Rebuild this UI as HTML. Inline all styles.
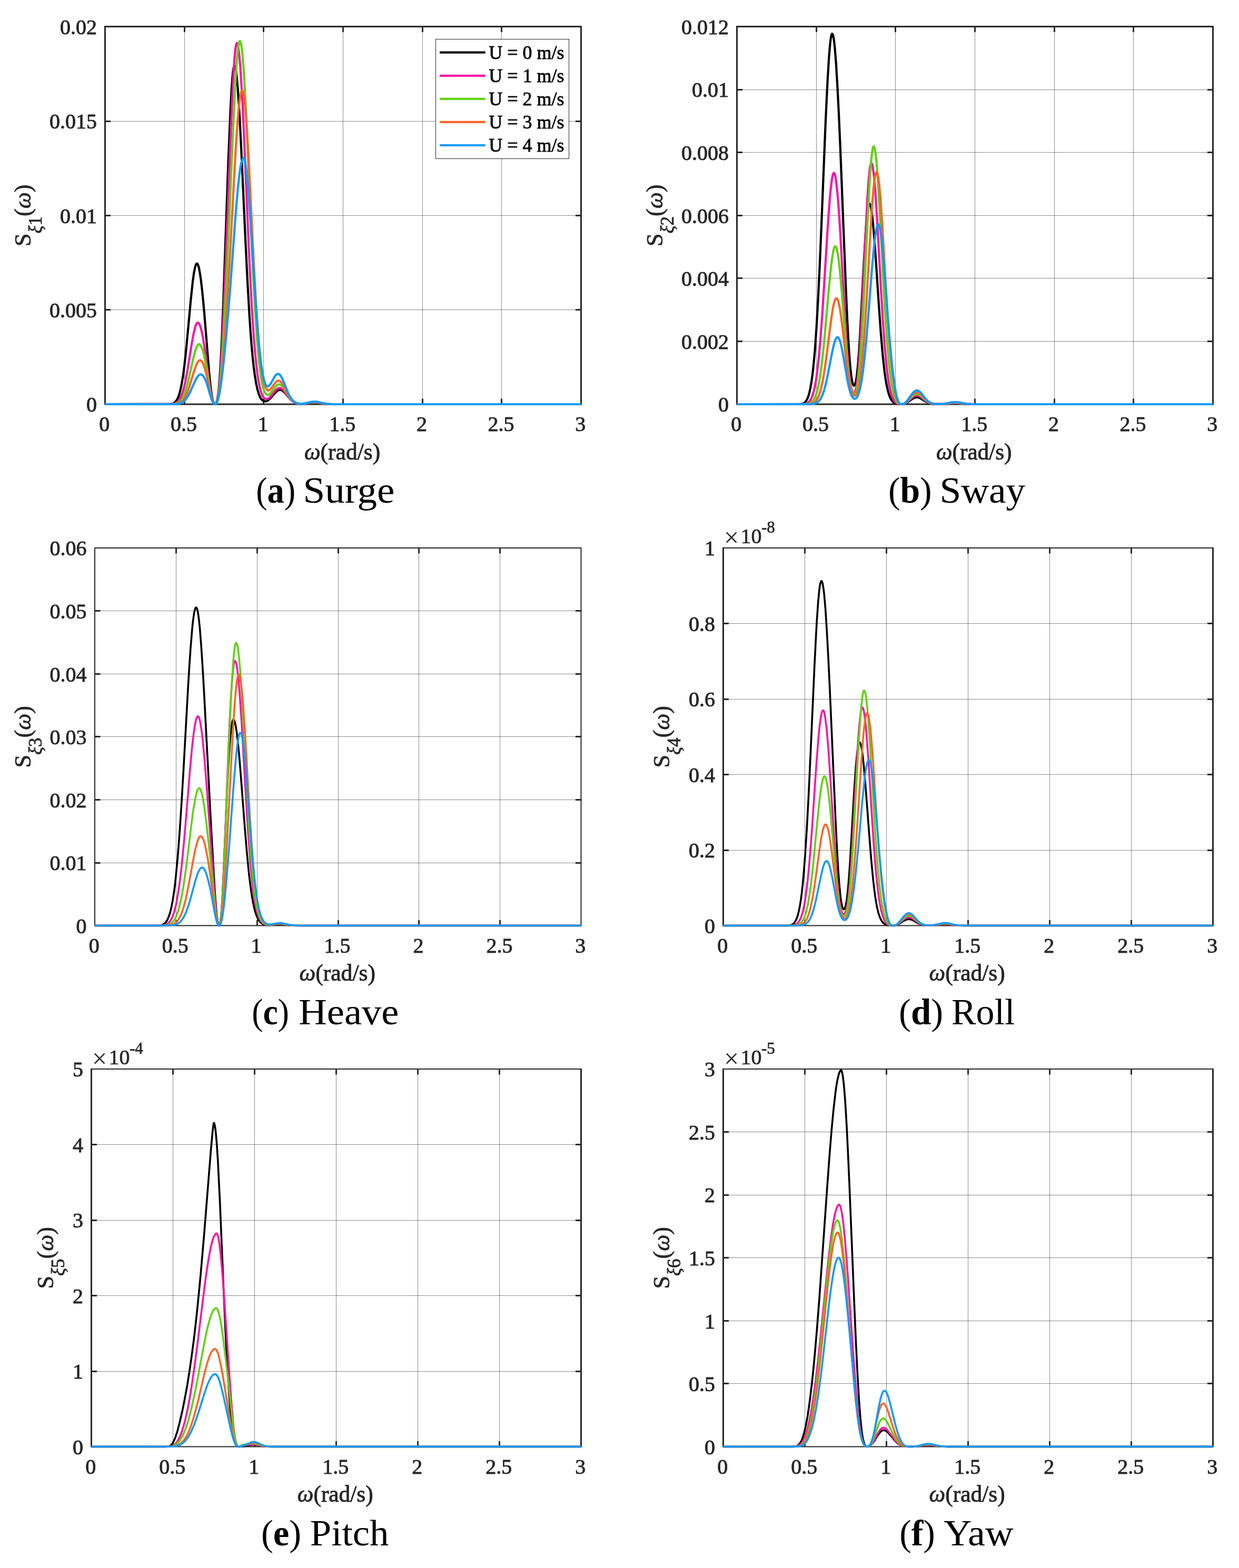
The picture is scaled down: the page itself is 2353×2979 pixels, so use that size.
<!DOCTYPE html>
<html><head><meta charset="utf-8"><title>Response spectra</title>
<style>html,body{margin:0;padding:0;background:#fff;}svg{display:block;}</style>
</head><body>
<svg width="2353" height="2979" viewBox="0 0 2353 2979" font-family="&quot;Liberation Serif&quot;, &quot;Times New Roman&quot;, serif">
<rect x="0" y="0" width="2353" height="2979" fill="#fff"/>
<g id="pa">
<path d="M350.5 50.5V768M500.5 50.5V768M651.5 50.5V768M802.5 50.5V768M952.5 50.5V768M199.5 588.5H1103.5M199.5 409.5H1103.5M199.5 230.5H1103.5" stroke="#232323" stroke-opacity="0.52" stroke-width="1" fill="none"/>
<path d="M350.5 768V757.5M350.5 50.5V61M500.5 768V757.5M500.5 50.5V61M651.5 768V757.5M651.5 50.5V61M802.5 768V757.5M802.5 50.5V61M952.5 768V757.5M952.5 50.5V61M199.5 588.5H210M1103.5 588.5H1093M199.5 409.5H210M1103.5 409.5H1093M199.5 230.5H210M1103.5 230.5H1093" stroke="#262626" stroke-width="2.9" fill="none"/>
<path d="M199.5 49V769.5M1103.5 49V769.5" stroke="#262626" stroke-width="3" fill="none"/>
<path d="M199.5 50.5H1103.5M199.5 768H1103.5" stroke="#262626" stroke-width="3" fill="none"/>
<g fill="none" stroke-width="4.2" stroke-linejoin="round" stroke-linecap="butt">
<path stroke="#000000" d="M199.5 768.0 L321.5 767.9 L326.1 767.3 L327.9 766.8 L329.7 766.1 L331.2 765.1 L332.7 763.9 L334.2 762.2 L335.4 760.6 L337.2 757.4 L338.7 753.9 L340.2 749.7 L341.7 744.5 L343.2 738.3 L344.7 731.0 L347.5 714.8 L350.2 694.6 L353.2 667.6 L362.5 568.3 L366.1 534.4 L368.2 519.1 L370.1 509.3 L371.3 504.8 L372.2 502.5 L373.1 501.1 L374.0 500.7 L374.9 501.2 L376.1 503.4 L377.3 507.0 L378.5 512.2 L380.9 526.8 L383.3 546.2 L385.7 569.7 L388.1 596.4 L397.2 707.6 L399.3 729.3 L401.1 744.2 L402.3 752.0 L403.5 758.1 L404.7 762.6 L405.9 765.6 L407.1 767.4 L408.0 768.0 L408.6 768.0 L409.2 767.7 L409.8 767.0 L411.0 764.7 L412.2 760.7 L413.4 754.6 L414.7 746.0 L415.6 737.7 L417.4 715.9 L419.5 681.2 L421.6 637.2 L424.0 577.9 L433.3 313.9 L437.3 216.6 L439.4 175.6 L441.2 149.3 L442.4 136.8 L443.3 130.3 L444.2 126.4 L444.8 125.3 L445.1 125.1 L445.4 125.2 L446.0 126.0 L447.2 129.8 L448.1 134.6 L449.3 143.6 L451.4 165.9 L453.8 200.6 L455.9 237.7 L458.0 279.6 L466.2 457.6 L469.8 531.3 L473.7 599.9 L475.5 626.8 L477.6 654.4 L479.7 677.9 L481.8 697.6 L484.0 713.7 L486.4 728.4 L488.8 739.6 L491.5 748.7 L493.0 752.5 L494.5 755.6 L496.0 758.0 L497.8 760.1 L500.2 761.8 L502.6 762.5 L503.8 762.5 L505.4 762.3 L508.1 761.2 L510.8 759.3 L513.5 756.8 L522.2 746.8 L525.2 743.8 L527.0 742.4 L528.6 741.5 L530.4 740.9 L531.9 740.7 L533.4 740.9 L535.2 741.5 L537.0 742.6 L538.8 744.1 L542.1 747.5 L550.9 757.8 L553.9 760.7 L556.6 762.8 L559.6 764.6 L562.9 766.0 L566.5 766.8 L570.4 767.2 L574.1 767.2 L577.7 767.0 L591.2 764.8 L597.3 764.4 L603.3 764.8 L614.4 766.7 L620.2 767.4 L626.5 767.8 L634.9 768.0 L1103.5 768.0"/>
<path stroke="#FF12A6" d="M199.5 768.0 L322.7 767.9 L327.6 767.6 L331.2 766.8 L334.2 765.6 L336.9 763.7 L338.7 761.9 L340.5 759.5 L342.0 757.0 L343.5 754.0 L346.6 746.1 L349.3 736.7 L352.0 724.9 L355.0 709.3 L364.3 651.9 L367.9 632.4 L370.1 623.5 L371.9 617.9 L373.1 615.3 L374.0 614.0 L374.9 613.2 L375.8 613.0 L376.7 613.3 L377.9 614.6 L379.1 616.8 L380.3 619.8 L382.7 628.4 L385.1 640.0 L387.2 652.3 L389.6 668.4 L398.4 734.6 L400.2 745.8 L402.0 754.8 L403.2 759.4 L404.4 763.0 L405.6 765.6 L406.8 767.3 L408.0 768.0 L408.6 768.0 L409.2 767.7 L410.4 766.4 L411.6 763.7 L412.8 759.5 L414.0 753.3 L415.3 745.0 L416.5 734.2 L418.6 709.1 L421.0 671.0 L423.7 617.8 L426.7 549.0 L437.6 265.3 L441.5 174.4 L443.9 130.7 L446.0 102.8 L447.2 91.9 L448.1 86.3 L449.0 82.9 L449.6 81.8 L449.9 81.7 L450.2 81.8 L450.8 82.6 L452.0 86.7 L452.9 91.8 L454.1 101.4 L456.2 125.2 L458.6 162.3 L460.8 201.9 L462.9 246.6 L471.0 436.7 L474.6 515.4 L478.5 588.5 L482.2 642.8 L484.3 668.5 L486.4 690.0 L488.5 707.7 L490.9 723.7 L493.3 735.9 L495.7 744.8 L496.9 748.2 L498.4 751.7 L499.9 754.3 L501.4 756.2 L503.2 757.7 L505.4 758.3 L507.5 758.1 L509.6 757.1 L511.7 755.5 L513.8 753.3 L521.6 743.5 L524.6 740.3 L526.4 738.8 L528.0 737.9 L529.5 737.3 L531.0 737.1 L532.5 737.3 L534.3 738.1 L536.1 739.3 L537.9 740.9 L540.9 744.4 L550.3 756.8 L553.3 760.0 L556.0 762.4 L559.0 764.3 L562.3 765.8 L565.9 766.8 L569.8 767.2 L573.5 767.3 L577.4 767.0 L591.2 764.8 L597.3 764.4 L603.3 764.8 L614.4 766.7 L620.2 767.4 L626.5 767.8 L634.9 768.0 L1103.5 768.0"/>
<path stroke="#60D210" d="M199.5 768.0 L324.3 767.9 L329.4 767.7 L333.0 767.2 L336.3 766.2 L339.0 764.8 L340.8 763.5 L342.6 761.8 L345.6 757.8 L348.7 752.2 L351.7 744.5 L354.4 735.9 L357.4 724.4 L366.7 682.3 L370.4 668.0 L372.5 661.5 L374.3 657.5 L376.1 654.9 L377.0 654.2 L377.9 653.9 L378.8 654.1 L380.0 654.8 L381.2 656.3 L382.4 658.5 L384.8 664.7 L387.2 673.5 L389.3 683.2 L391.4 694.5 L399.6 744.1 L401.4 753.0 L403.2 759.8 L404.1 762.5 L405.3 765.2 L406.5 767.0 L407.7 767.9 L408.9 767.9 L409.8 767.3 L411.0 765.5 L411.9 763.4 L413.4 758.3 L415.0 750.7 L416.5 740.4 L417.7 730.1 L420.4 700.1 L423.4 657.1 L427.0 594.7 L430.9 516.3 L434.5 435.5 L442.4 250.7 L446.6 164.5 L449.0 126.0 L450.2 110.6 L451.4 97.9 L452.6 88.3 L453.5 83.1 L454.7 79.0 L455.3 78.2 L455.6 78.1 L455.9 78.2 L456.5 79.0 L457.7 83.1 L458.6 88.3 L459.9 97.9 L462.0 121.9 L464.4 159.2 L466.5 199.0 L468.6 243.9 L476.7 434.9 L480.3 514.0 L484.0 582.4 L487.6 637.9 L489.4 660.7 L491.5 683.3 L493.6 701.8 L495.7 716.7 L497.8 728.3 L500.2 738.1 L501.4 741.7 L502.6 744.6 L503.8 746.8 L505.1 748.5 L506.6 749.7 L508.1 750.3 L509.6 750.1 L511.4 749.2 L512.9 747.9 L514.7 745.9 L521.6 736.5 L524.3 733.3 L525.8 732.0 L527.4 731.0 L528.9 730.5 L530.1 730.3 L531.6 730.6 L533.4 731.5 L535.2 733.0 L537.0 735.0 L540.3 739.7 L549.0 753.9 L552.1 757.9 L555.1 761.1 L558.4 763.7 L561.7 765.5 L565.3 766.6 L569.5 767.2 L573.2 767.2 L577.1 766.9 L591.2 764.5 L597.3 764.1 L603.3 764.5 L614.4 766.6 L620.2 767.4 L626.5 767.8 L634.9 768.0 L1103.5 768.0"/>
<path stroke="#FF6428" d="M199.5 768.0 L325.8 768.0 L330.9 767.8 L334.8 767.3 L338.1 766.6 L340.8 765.6 L342.6 764.6 L344.4 763.3 L347.5 760.4 L350.5 756.2 L353.5 750.6 L356.2 744.3 L359.2 735.9 L368.5 705.1 L372.2 694.7 L374.3 690.0 L376.1 687.0 L377.9 685.1 L378.8 684.6 L379.7 684.4 L380.9 684.6 L382.1 685.4 L383.3 686.6 L384.2 687.9 L386.3 692.0 L388.7 698.7 L390.5 705.1 L392.7 713.9 L400.2 750.1 L402.0 757.0 L403.8 762.4 L404.7 764.4 L405.9 766.4 L406.8 767.4 L408.0 768.0 L409.2 767.8 L410.1 767.1 L411.0 765.9 L411.9 764.1 L413.7 758.9 L415.3 752.5 L416.8 744.1 L418.3 733.7 L419.8 721.3 L421.6 704.1 L424.9 666.6 L429.1 610.0 L433.0 548.9 L437.0 480.1 L445.7 316.6 L448.1 275.7 L450.2 243.9 L452.9 210.2 L455.3 188.4 L456.5 180.8 L457.7 175.4 L458.9 172.4 L459.6 171.8 L459.9 171.8 L460.2 171.8 L460.8 172.6 L462.0 176.1 L462.9 180.6 L464.1 188.9 L466.2 209.6 L468.6 241.8 L470.7 276.2 L472.8 315.0 L480.9 480.1 L484.3 542.9 L487.9 602.7 L491.2 647.6 L493.0 668.0 L494.8 685.5 L496.6 700.2 L498.7 714.1 L500.5 723.5 L502.6 731.6 L504.8 737.2 L506.0 739.3 L507.2 740.7 L508.4 741.6 L509.6 741.9 L510.8 741.7 L512.3 740.8 L513.8 739.4 L515.3 737.7 L521.3 729.0 L524.3 725.5 L526.1 724.0 L527.7 723.3 L529.2 723.2 L530.7 723.5 L531.9 724.1 L533.4 725.4 L534.9 727.1 L536.4 729.3 L539.4 734.4 L548.1 751.3 L551.2 756.0 L554.2 759.9 L557.5 762.9 L561.1 765.2 L565.0 766.5 L569.8 767.2 L573.5 767.2 L577.1 766.9 L591.2 764.2 L597.3 763.7 L600.3 763.8 L603.3 764.2 L614.4 766.4 L620.2 767.3 L626.5 767.8 L634.9 768.0 L1103.5 768.0"/>
<path stroke="#0E9AFF" d="M199.5 768.0 L326.7 768.0 L335.7 767.6 L339.0 767.1 L341.7 766.4 L345.3 764.9 L348.4 763.0 L351.4 760.3 L354.4 756.6 L357.1 752.4 L360.1 746.8 L369.8 725.4 L373.4 718.3 L375.5 715.1 L377.3 713.1 L379.1 711.8 L380.9 711.3 L382.1 711.5 L383.3 712.0 L385.4 713.7 L387.8 717.1 L389.9 721.4 L391.8 726.0 L393.6 731.3 L400.8 755.8 L402.6 760.7 L404.4 764.5 L406.2 767.0 L407.1 767.7 L408.0 768.0 L408.9 767.9 L409.8 767.4 L410.7 766.5 L411.6 765.1 L413.1 761.7 L414.7 756.8 L416.2 750.3 L417.7 742.2 L421.0 719.5 L424.6 688.7 L429.1 643.8 L433.6 592.2 L437.6 542.1 L446.9 415.2 L449.3 385.3 L451.7 358.6 L454.4 333.5 L455.9 322.3 L457.1 314.9 L458.6 307.8 L459.9 303.8 L461.1 301.4 L461.7 300.8 L462.3 300.5 L463.2 301.2 L464.4 303.9 L465.3 307.4 L466.5 314.0 L468.6 330.2 L471.0 355.5 L473.1 382.4 L475.2 412.8 L483.1 537.4 L486.4 587.0 L489.7 630.5 L493.0 666.5 L496.3 694.4 L497.8 704.4 L499.6 714.3 L501.4 722.0 L503.2 727.6 L505.1 731.4 L506.0 732.6 L506.9 733.4 L508.1 734.0 L509.6 733.8 L510.8 733.1 L512.3 731.5 L515.0 727.5 L521.3 716.1 L522.8 713.9 L524.3 712.1 L525.8 710.9 L527.0 710.4 L528.6 710.3 L529.8 710.7 L531.0 711.5 L532.5 713.2 L534.0 715.4 L535.5 718.2 L538.5 724.8 L547.2 746.5 L550.3 752.6 L553.3 757.5 L555.1 759.9 L556.9 761.8 L558.7 763.3 L560.5 764.6 L562.6 765.6 L564.7 766.3 L567.1 766.8 L569.5 767.1 L573.2 767.1 L577.1 766.7 L581.3 765.9 L591.2 763.6 L594.2 763.1 L597.3 763.0 L600.3 763.1 L603.3 763.6 L614.4 766.2 L620.2 767.2 L626.5 767.7 L634.9 768.0 L1103.5 768.0"/>
</g>
<g font-size="40" fill="#262626" stroke="#262626" stroke-width="0.9" text-anchor="end">
<text x="184" y="782.3">0</text>
<text x="184" y="602.9">0.005</text>
<text x="184" y="423.6">0.01</text>
<text x="184" y="244.2">0.015</text>
<text x="184" y="64.8">0.02</text>
</g>
<g font-size="40" fill="#262626" stroke="#262626" stroke-width="0.9" text-anchor="middle">
<text x="198.3" y="819.2">0</text>
<text x="349" y="819.2">0.5</text>
<text x="499.6" y="819.2">1</text>
<text x="650.3" y="819.2">1.5</text>
<text x="801" y="819.2">2</text>
<text x="951.6" y="819.2">2.5</text>
<text x="1102.3" y="819.2">3</text>
</g>
<text transform="translate(577.9 872.8) scale(0.9888 1)" font-size="44" fill="#262626" stroke="#262626" stroke-width="0.9"><tspan font-style="italic">&#969;</tspan>(rad/s)</text>
<text transform="translate(57.8 409.2) rotate(-90)" font-size="44" fill="#262626" stroke="#262626" stroke-width="0.8" text-anchor="middle">S<tspan font-size="35" dy="21"><tspan font-style="italic">&#958;</tspan>1</tspan><tspan dy="-21">(</tspan><tspan font-style="italic">&#969;</tspan>)</text>
<text transform="translate(486.2 955.3) scale(0.9187 1)" font-size="70" fill="#000">(<tspan font-weight="bold">a</tspan>)</text>
<text transform="translate(575.4 955.3) scale(1.0735 1)" font-size="70" fill="#000">Surge</text>
</g>
<g id="pb">
<path d="M1550.5 50.5V768M1700.5 50.5V768M1851.5 50.5V768M2002.5 50.5V768M2152.5 50.5V768M1399.5 648.5H2303.5M1399.5 528.5H2303.5M1399.5 409.5H2303.5M1399.5 289.5H2303.5M1399.5 170.5H2303.5" stroke="#232323" stroke-opacity="0.52" stroke-width="1" fill="none"/>
<path d="M1550.5 768V757.5M1550.5 50.5V61M1700.5 768V757.5M1700.5 50.5V61M1851.5 768V757.5M1851.5 50.5V61M2002.5 768V757.5M2002.5 50.5V61M2152.5 768V757.5M2152.5 50.5V61M1399.5 648.5H1410M2303.5 648.5H2293M1399.5 528.5H1410M2303.5 528.5H2293M1399.5 409.5H1410M2303.5 409.5H2293M1399.5 289.5H1410M2303.5 289.5H2293M1399.5 170.5H1410M2303.5 170.5H2293" stroke="#262626" stroke-width="2.9" fill="none"/>
<path d="M1399.5 49V769.5M2303.5 49V769.5" stroke="#262626" stroke-width="3" fill="none"/>
<path d="M1399.5 50.5H2303.5M1399.5 768H2303.5" stroke="#262626" stroke-width="3" fill="none"/>
<g fill="none" stroke-width="4.2" stroke-linejoin="round" stroke-linecap="butt">
<path stroke="#000000" d="M1399.5 768.0 L1513.4 768.0 L1518.2 767.9 L1521.5 767.6 L1524.3 767.0 L1526.7 765.9 L1528.8 764.3 L1530.6 762.2 L1532.4 759.3 L1533.9 756.0 L1535.4 751.9 L1536.9 746.8 L1539.0 737.5 L1540.8 727.2 L1542.6 714.5 L1544.1 701.8 L1545.9 683.8 L1547.5 666.3 L1550.5 623.9 L1553.5 571.6 L1556.8 503.1 L1560.1 425.3 L1567.6 237.9 L1569.8 190.4 L1571.9 148.3 L1574.3 109.0 L1576.4 84.0 L1577.6 74.1 L1578.5 68.9 L1579.4 65.6 L1580.0 64.5 L1580.6 64.2 L1581.2 64.8 L1581.8 66.2 L1583.0 71.2 L1584.2 79.4 L1585.4 90.5 L1587.8 121.0 L1590.5 166.9 L1593.0 216.0 L1595.7 278.2 L1606.8 557.2 L1609.2 609.8 L1611.6 654.3 L1613.7 685.0 L1615.0 699.0 L1616.2 710.3 L1617.4 719.1 L1618.6 725.6 L1619.8 729.9 L1621.0 732.3 L1621.6 732.7 L1622.2 732.7 L1622.8 732.2 L1623.4 731.3 L1624.6 727.9 L1625.5 724.1 L1626.7 717.1 L1627.6 710.4 L1629.4 692.8 L1631.2 669.8 L1633.3 636.6 L1640.9 492.3 L1644.2 438.2 L1646.0 415.7 L1647.8 399.4 L1648.7 393.7 L1649.6 389.8 L1650.2 388.1 L1650.5 387.6 L1651.1 387.1 L1651.4 387.2 L1652.0 387.7 L1652.9 389.7 L1653.8 393.0 L1654.7 397.7 L1656.5 410.7 L1658.6 431.6 L1662.3 478.1 L1669.5 586.9 L1672.8 632.9 L1676.4 675.1 L1679.7 705.3 L1681.5 718.5 L1683.7 731.0 L1685.8 740.9 L1687.9 748.6 L1690.3 755.1 L1692.7 759.6 L1695.4 763.1 L1696.9 764.5 L1698.7 765.7 L1702.0 767.1 L1706.0 767.8 L1713.2 768.0 L1715.3 767.8 L1717.4 767.4 L1719.8 766.6 L1722.2 765.2 L1731.0 758.9 L1734.6 756.7 L1737.9 755.3 L1741.2 754.8 L1744.2 755.3 L1747.2 756.4 L1750.3 758.1 L1758.4 763.2 L1761.1 764.6 L1763.8 765.7 L1766.8 766.6 L1770.1 767.3 L1773.8 767.6 L1778.3 767.9 L1791.2 767.7 L1807.8 766.4 L1813.8 766.2 L1819.9 766.4 L1836.4 767.7 L1851.2 768.0 L2303.5 768.0"/>
<path stroke="#FF12A6" d="M1399.5 768.0 L1516.1 768.0 L1525.8 767.7 L1528.8 767.3 L1531.2 766.6 L1533.3 765.7 L1535.1 764.5 L1536.9 762.8 L1538.7 760.5 L1540.2 757.9 L1541.7 754.8 L1543.8 749.0 L1545.6 742.6 L1547.5 734.6 L1549.0 726.5 L1550.8 714.9 L1552.3 703.6 L1555.3 676.1 L1558.3 641.6 L1561.3 600.7 L1564.3 554.5 L1571.6 436.7 L1575.5 382.0 L1577.6 358.9 L1579.7 341.9 L1580.9 335.1 L1581.8 331.6 L1582.7 329.4 L1583.6 328.5 L1583.9 328.6 L1584.5 329.1 L1585.7 332.2 L1586.6 336.2 L1587.8 343.6 L1589.9 362.3 L1592.1 387.4 L1594.2 417.6 L1596.3 451.9 L1603.8 587.0 L1606.5 632.7 L1609.2 672.4 L1611.6 700.9 L1612.8 712.5 L1614.4 724.3 L1615.6 731.7 L1617.1 738.7 L1618.6 743.4 L1619.2 744.6 L1620.1 745.9 L1621.0 746.5 L1621.9 746.4 L1622.8 745.5 L1623.4 744.6 L1624.6 741.6 L1625.8 737.1 L1627.0 730.9 L1627.9 724.8 L1630.0 705.9 L1631.8 683.8 L1633.9 651.1 L1636.0 611.8 L1643.9 440.9 L1647.5 372.6 L1649.3 346.2 L1651.1 326.4 L1652.0 319.3 L1652.9 314.2 L1653.8 311.1 L1654.4 310.1 L1654.7 310.0 L1655.0 310.1 L1655.6 310.8 L1656.5 313.2 L1657.4 317.3 L1658.3 322.9 L1660.2 338.6 L1662.3 363.7 L1665.9 419.6 L1673.1 550.3 L1676.4 605.6 L1680.0 656.3 L1683.4 692.7 L1685.2 708.4 L1687.0 721.6 L1689.1 734.0 L1691.2 743.6 L1693.6 751.8 L1696.0 757.7 L1697.2 760.0 L1698.7 762.3 L1700.2 764.0 L1702.0 765.6 L1703.5 766.5 L1705.1 767.1 L1708.7 767.9 L1714.1 767.9 L1715.9 767.7 L1717.7 767.1 L1719.8 766.1 L1722.2 764.5 L1731.0 756.5 L1734.6 753.6 L1737.9 751.9 L1739.7 751.4 L1741.2 751.3 L1742.7 751.4 L1744.2 751.8 L1747.2 753.2 L1750.3 755.4 L1758.4 761.9 L1761.1 763.7 L1763.8 765.1 L1766.8 766.2 L1770.1 767.1 L1773.8 767.6 L1778.3 767.8 L1784.6 767.8 L1791.2 767.6 L1807.8 765.9 L1813.8 765.6 L1819.9 765.9 L1836.4 767.6 L1851.2 768.0 L2303.5 768.0"/>
<path stroke="#60D210" d="M1399.5 768.0 L1518.8 768.0 L1529.4 767.8 L1534.8 767.1 L1536.9 766.5 L1539.0 765.6 L1540.8 764.4 L1542.6 762.8 L1544.1 761.1 L1545.6 758.9 L1547.5 755.6 L1549.3 751.3 L1551.1 745.9 L1552.6 740.4 L1554.4 732.4 L1555.9 724.6 L1558.9 705.3 L1561.9 681.1 L1564.9 652.1 L1574.6 542.8 L1578.5 504.0 L1580.6 487.9 L1582.4 477.5 L1583.6 472.6 L1584.5 470.0 L1585.4 468.4 L1586.3 467.8 L1587.2 468.3 L1588.1 469.9 L1589.0 472.5 L1590.2 477.6 L1592.4 490.8 L1594.5 508.7 L1598.4 551.8 L1607.7 670.2 L1610.4 698.6 L1612.8 718.7 L1614.0 726.7 L1615.6 734.8 L1617.1 740.9 L1618.6 745.2 L1620.1 747.8 L1620.7 748.4 L1621.6 748.9 L1622.5 748.8 L1623.1 748.4 L1624.6 746.3 L1626.1 742.5 L1627.3 737.9 L1628.5 731.9 L1629.7 724.1 L1632.1 703.1 L1634.5 674.1 L1637.0 637.3 L1639.4 593.7 L1648.1 410.0 L1651.7 343.2 L1653.8 313.1 L1655.6 294.1 L1656.5 287.2 L1657.4 282.3 L1658.3 279.3 L1658.9 278.4 L1659.2 278.3 L1659.6 278.4 L1660.2 279.2 L1661.1 281.8 L1662.0 286.2 L1662.9 292.2 L1664.7 309.0 L1666.8 335.8 L1670.4 395.6 L1677.6 535.3 L1680.6 589.3 L1684.3 644.5 L1687.6 684.4 L1689.4 701.8 L1691.5 718.7 L1693.6 732.2 L1695.7 742.8 L1698.1 752.1 L1700.5 758.8 L1702.9 763.3 L1704.1 764.9 L1705.7 766.2 L1708.1 767.5 L1711.4 768.0 L1715.3 767.7 L1718.3 766.7 L1720.4 765.3 L1722.5 763.5 L1731.0 754.4 L1734.6 751.1 L1736.4 749.8 L1737.9 749.0 L1739.7 748.4 L1741.2 748.3 L1742.7 748.4 L1744.2 748.9 L1747.2 750.6 L1750.3 753.1 L1758.4 760.9 L1761.1 762.9 L1763.8 764.6 L1766.8 765.9 L1770.1 766.9 L1773.8 767.5 L1778.3 767.8 L1784.6 767.8 L1791.2 767.5 L1796.7 766.9 L1807.8 765.4 L1813.8 765.0 L1819.9 765.4 L1831.0 766.9 L1836.4 767.5 L1842.8 767.8 L1851.2 768.0 L2303.5 768.0"/>
<path stroke="#FF6428" d="M1399.5 768.0 L1532.7 767.9 L1538.4 767.4 L1542.6 766.3 L1545.9 764.7 L1549.0 762.1 L1550.8 759.8 L1552.6 756.9 L1554.4 753.2 L1555.9 749.4 L1558.9 739.5 L1561.9 726.3 L1564.6 711.3 L1567.6 691.4 L1570.4 671.0 L1577.3 615.5 L1580.9 590.7 L1583.0 579.5 L1584.8 572.4 L1585.7 569.9 L1586.6 568.0 L1587.5 566.9 L1588.4 566.5 L1589.3 566.9 L1590.2 568.0 L1591.1 569.9 L1592.1 572.6 L1593.9 580.2 L1596.0 592.2 L1599.6 619.2 L1608.6 697.1 L1611.3 716.3 L1614.0 731.4 L1615.6 737.9 L1617.1 743.0 L1618.6 746.9 L1620.1 749.7 L1621.6 751.3 L1622.5 751.7 L1623.4 751.7 L1624.3 751.4 L1624.9 750.9 L1626.4 748.9 L1627.9 745.6 L1629.4 740.9 L1630.9 734.5 L1632.4 726.4 L1635.1 706.8 L1637.9 680.6 L1640.6 647.6 L1643.6 603.9 L1646.6 554.1 L1653.2 438.0 L1656.8 383.1 L1658.9 358.0 L1660.8 342.0 L1662.0 334.4 L1662.9 330.5 L1663.8 328.1 L1664.4 327.4 L1664.7 327.3 L1665.0 327.4 L1665.6 328.1 L1666.5 330.5 L1667.4 334.4 L1668.3 339.8 L1670.1 355.0 L1672.2 379.1 L1675.8 432.9 L1683.1 558.6 L1686.1 607.3 L1689.4 653.4 L1692.4 687.6 L1694.2 704.8 L1696.3 721.8 L1698.1 734.0 L1700.2 745.8 L1702.0 753.6 L1704.1 760.4 L1705.1 762.5 L1706.3 764.7 L1707.2 765.8 L1708.4 766.9 L1710.5 767.9 L1713.2 767.9 L1716.2 767.2 L1718.9 765.9 L1721.0 764.2 L1723.1 762.0 L1731.0 752.3 L1734.3 748.8 L1736.1 747.3 L1737.9 746.1 L1739.7 745.5 L1741.2 745.3 L1742.7 745.5 L1744.2 746.0 L1747.2 747.9 L1750.3 750.8 L1758.4 759.8 L1761.1 762.2 L1763.8 764.1 L1766.8 765.6 L1770.1 766.7 L1773.8 767.4 L1778.3 767.8 L1784.6 767.8 L1791.2 767.4 L1796.7 766.7 L1807.8 764.8 L1813.8 764.4 L1819.9 764.8 L1831.0 766.7 L1836.4 767.4 L1842.8 767.8 L1851.2 768.0 L2303.5 768.0"/>
<path stroke="#0E9AFF" d="M1399.5 768.0 L1536.3 767.9 L1541.7 767.6 L1545.9 767.0 L1549.3 766.0 L1552.3 764.4 L1554.1 763.0 L1555.9 761.1 L1557.7 758.7 L1559.2 756.2 L1562.2 749.8 L1564.9 742.0 L1567.6 732.2 L1570.7 719.1 L1579.7 672.2 L1583.3 655.8 L1585.1 649.4 L1586.9 644.6 L1587.8 642.9 L1588.7 641.7 L1589.6 640.9 L1590.5 640.6 L1591.4 640.9 L1592.4 641.7 L1593.3 643.1 L1594.2 645.0 L1596.0 650.2 L1597.8 657.3 L1601.1 674.0 L1609.5 723.2 L1612.2 736.1 L1614.7 745.0 L1616.2 749.2 L1617.7 752.6 L1619.2 755.0 L1620.7 756.6 L1622.2 757.5 L1623.1 757.7 L1624.0 757.6 L1625.5 756.9 L1627.0 755.4 L1628.8 752.5 L1630.3 748.9 L1631.8 744.2 L1633.3 738.4 L1634.8 731.2 L1636.3 722.7 L1639.4 701.5 L1642.4 674.8 L1645.7 639.6 L1648.7 603.3 L1655.9 510.8 L1659.9 467.6 L1662.0 449.5 L1664.1 436.1 L1665.3 430.9 L1666.2 428.2 L1667.1 426.5 L1668.0 426.0 L1668.9 426.6 L1669.8 428.4 L1670.7 431.5 L1671.6 435.7 L1673.4 447.4 L1675.5 466.2 L1679.1 507.9 L1686.4 605.6 L1689.4 643.4 L1692.7 679.8 L1696.0 710.0 L1699.3 734.2 L1701.1 744.7 L1702.6 752.0 L1704.1 757.7 L1706.0 762.7 L1707.8 765.8 L1708.7 766.8 L1709.6 767.4 L1710.5 767.8 L1711.7 768.0 L1714.1 767.7 L1716.8 766.7 L1719.2 765.1 L1721.0 763.5 L1723.1 761.0 L1731.0 749.8 L1734.3 745.7 L1736.1 744.0 L1737.9 742.7 L1739.7 741.9 L1741.2 741.7 L1742.7 741.9 L1744.2 742.5 L1745.7 743.5 L1747.2 744.8 L1750.3 748.1 L1758.4 758.5 L1761.1 761.3 L1763.8 763.5 L1766.8 765.2 L1770.1 766.5 L1773.8 767.3 L1778.3 767.7 L1784.6 767.7 L1791.2 767.3 L1796.7 766.5 L1807.8 764.3 L1813.8 763.8 L1819.9 764.3 L1831.0 766.5 L1836.4 767.3 L1842.8 767.8 L1851.2 768.0 L2303.5 768.0"/>
</g>
<g font-size="40" fill="#262626" stroke="#262626" stroke-width="0.9" text-anchor="end">
<text x="1384" y="782.3">0</text>
<text x="1384" y="662.7">0.002</text>
<text x="1384" y="543.1">0.004</text>
<text x="1384" y="423.6">0.006</text>
<text x="1384" y="304">0.008</text>
<text x="1384" y="184.4">0.01</text>
<text x="1384" y="64.8">0.012</text>
</g>
<g font-size="40" fill="#262626" stroke="#262626" stroke-width="0.9" text-anchor="middle">
<text x="1398.3" y="819.2">0</text>
<text x="1549" y="819.2">0.5</text>
<text x="1699.6" y="819.2">1</text>
<text x="1850.3" y="819.2">1.5</text>
<text x="2001" y="819.2">2</text>
<text x="2151.6" y="819.2">2.5</text>
<text x="2302.3" y="819.2">3</text>
</g>
<text transform="translate(1778 872.8) scale(0.9839 1)" font-size="44" fill="#262626" stroke="#262626" stroke-width="0.9"><tspan font-style="italic">&#969;</tspan>(rad/s)</text>
<text transform="translate(1257.5 409.2) rotate(-90)" font-size="44" fill="#262626" stroke="#262626" stroke-width="0.8" text-anchor="middle">S<tspan font-size="35" dy="21"><tspan font-style="italic">&#958;</tspan>2</tspan><tspan dy="-21">(</tspan><tspan font-style="italic">&#969;</tspan>)</text>
<text transform="translate(1686.9 955.3) scale(0.9671 1)" font-size="70" fill="#000">(<tspan font-weight="bold">b</tspan>)</text>
<text transform="translate(1784.4 955.3) scale(1.0467 1)" font-size="70" fill="#000">Sway</text>
</g>
<g id="pc">
<path d="M334.5 1041V1758.5M488.5 1041V1758.5M642.5 1041V1758.5M795.5 1041V1758.5M949.5 1041V1758.5M180 1639.5H1103.5M180 1519.5H1103.5M180 1399.5H1103.5M180 1280.5H1103.5M180 1160.5H1103.5" stroke="#232323" stroke-opacity="0.52" stroke-width="1" fill="none"/>
<path d="M334.5 1758.5V1748M334.5 1041V1051.5M488.5 1758.5V1748M488.5 1041V1051.5M642.5 1758.5V1748M642.5 1041V1051.5M795.5 1758.5V1748M795.5 1041V1051.5M949.5 1758.5V1748M949.5 1041V1051.5M180 1639.5H190.5M1103.5 1639.5H1093M180 1519.5H190.5M1103.5 1519.5H1093M180 1399.5H190.5M1103.5 1399.5H1093M180 1280.5H190.5M1103.5 1280.5H1093M180 1160.5H190.5M1103.5 1160.5H1093" stroke="#262626" stroke-width="2.9" fill="none"/>
<path d="M180 1040V1759.5M1103.5 1040V1759.5" stroke="#262626" stroke-width="2" fill="none"/>
<path d="M180 1041H1103.5M180 1758.5H1103.5" stroke="#262626" stroke-width="2" fill="none"/>
<g fill="none" stroke-width="3.6" stroke-linejoin="round" stroke-linecap="butt">
<path stroke="#000000" d="M180.0 1758.5 L295.7 1758.5 L301.0 1758.4 L304.4 1758.1 L307.4 1757.4 L309.9 1756.4 L312.4 1754.7 L314.5 1752.6 L316.7 1749.6 L318.5 1746.2 L320.4 1741.8 L321.9 1737.4 L324.1 1729.7 L326.2 1720.1 L328.1 1710.2 L329.9 1698.4 L331.8 1684.7 L333.6 1668.8 L337.3 1630.5 L341.0 1583.0 L344.7 1527.0 L348.4 1464.1 L357.3 1303.4 L359.8 1263.2 L361.9 1231.6 L364.7 1197.6 L366.2 1182.5 L367.5 1172.6 L368.7 1164.7 L369.9 1159.0 L371.2 1155.5 L371.8 1154.5 L372.4 1154.1 L372.7 1154.2 L373.3 1154.7 L373.9 1155.8 L374.6 1157.6 L375.8 1163.1 L377.0 1170.9 L379.5 1193.4 L381.9 1224.1 L384.4 1261.5 L387.2 1309.4 L401.0 1571.8 L407.2 1680.5 L409.6 1715.5 L411.8 1738.5 L413.0 1748.0 L414.0 1753.3 L414.9 1756.8 L415.8 1758.4 L416.4 1758.4 L416.7 1758.0 L417.3 1756.6 L418.3 1752.6 L418.9 1748.6 L420.4 1733.7 L422.0 1711.8 L424.7 1656.8 L431.5 1497.1 L433.7 1455.1 L435.8 1420.5 L437.7 1397.4 L439.5 1380.6 L440.4 1374.6 L441.4 1370.3 L442.3 1367.8 L442.9 1367.1 L443.2 1367.0 L444.1 1367.6 L445.4 1370.0 L446.3 1373.0 L447.5 1378.5 L449.7 1392.2 L452.1 1413.4 L454.3 1436.0 L456.4 1461.4 L464.7 1569.8 L468.7 1618.1 L472.7 1659.1 L474.6 1675.2 L476.8 1691.6 L478.9 1705.6 L481.1 1717.2 L483.5 1728.0 L486.0 1736.4 L488.8 1743.4 L491.5 1748.5 L493.1 1750.6 L494.6 1752.3 L496.1 1753.6 L498.0 1754.9 L500.1 1756.0 L502.3 1756.7 L504.8 1757.2 L507.8 1757.6 L513.4 1757.5 L526.0 1756.3 L532.2 1756.1 L537.7 1756.4 L554.0 1758.1 L568.5 1758.5 L1103.5 1758.5"/>
<path stroke="#FF12A6" d="M180.0 1758.5 L297.6 1758.5 L307.8 1758.2 L311.1 1757.7 L313.9 1756.9 L316.4 1755.9 L318.5 1754.5 L320.7 1752.6 L322.5 1750.5 L324.4 1747.8 L326.2 1744.4 L328.4 1739.4 L330.5 1733.2 L332.4 1726.6 L334.2 1718.9 L336.1 1709.8 L337.9 1699.3 L341.6 1673.7 L345.3 1641.7 L349.0 1603.8 L352.4 1564.9 L361.0 1460.1 L363.5 1432.8 L365.6 1411.4 L368.4 1388.6 L370.9 1373.5 L372.1 1368.1 L373.3 1364.1 L374.6 1361.7 L375.2 1361.0 L375.8 1360.8 L376.7 1361.2 L377.9 1363.3 L379.2 1367.1 L380.4 1372.7 L382.9 1388.5 L385.3 1409.9 L388.4 1443.0 L392.1 1488.7 L397.9 1567.1 L405.6 1674.5 L409.0 1716.4 L411.2 1737.0 L412.4 1746.0 L413.3 1751.3 L414.3 1755.2 L415.2 1757.6 L415.8 1758.4 L416.1 1758.5 L416.7 1758.1 L417.0 1757.6 L418.0 1754.7 L418.9 1749.6 L420.4 1735.7 L422.0 1714.7 L423.5 1686.6 L426.0 1629.7 L433.7 1426.9 L436.1 1371.5 L438.6 1324.8 L440.7 1292.4 L442.6 1272.2 L443.5 1264.9 L444.4 1259.7 L445.4 1256.6 L446.0 1255.6 L446.3 1255.5 L446.6 1255.6 L447.2 1256.3 L448.4 1259.5 L449.4 1263.6 L450.6 1271.1 L452.7 1289.9 L454.9 1314.8 L458.9 1374.0 L467.2 1518.0 L470.9 1577.3 L474.9 1631.9 L478.6 1671.8 L480.8 1690.5 L482.9 1705.9 L485.1 1718.5 L487.5 1729.8 L490.0 1738.3 L492.8 1745.2 L494.3 1748.1 L495.8 1750.4 L497.4 1752.2 L499.2 1753.9 L501.4 1755.3 L503.5 1756.2 L506.0 1756.9 L508.8 1757.2 L513.7 1757.2 L526.0 1755.8 L532.2 1755.5 L537.7 1755.9 L554.0 1758.0 L560.5 1758.3 L568.5 1758.5 L1103.5 1758.5"/>
<path stroke="#60D210" d="M180.0 1758.5 L299.7 1758.5 L310.8 1758.3 L317.0 1757.5 L319.4 1756.9 L321.9 1755.9 L324.1 1754.8 L325.9 1753.4 L327.8 1751.7 L329.6 1749.6 L331.8 1746.4 L333.9 1742.3 L336.1 1737.3 L337.9 1732.1 L339.8 1725.9 L341.6 1718.8 L345.0 1703.0 L348.4 1683.4 L352.1 1658.1 L355.5 1631.9 L363.8 1563.6 L366.2 1545.1 L368.4 1530.6 L371.2 1515.2 L373.6 1505.2 L374.9 1501.7 L376.1 1499.2 L377.3 1497.8 L378.2 1497.4 L379.2 1497.8 L380.4 1499.2 L381.6 1502.0 L382.9 1505.8 L385.3 1516.9 L387.8 1531.8 L391.2 1557.2 L395.2 1591.9 L399.5 1632.5 L406.6 1703.3 L409.6 1730.3 L411.8 1744.9 L413.6 1753.7 L414.6 1756.5 L415.5 1758.2 L416.1 1758.5 L416.4 1758.4 L417.0 1757.7 L418.0 1755.1 L418.9 1750.6 L420.4 1737.9 L422.0 1718.5 L423.8 1686.4 L426.6 1623.6 L435.2 1402.3 L438.0 1341.1 L440.4 1294.5 L442.6 1261.5 L444.4 1240.4 L445.7 1230.5 L446.6 1225.3 L447.5 1222.2 L448.1 1221.3 L448.4 1221.2 L448.7 1221.3 L449.4 1222.0 L450.6 1225.6 L451.5 1230.1 L452.7 1238.4 L454.9 1259.1 L457.1 1286.6 L461.1 1351.6 L469.1 1502.7 L472.4 1562.0 L476.4 1621.8 L480.1 1665.5 L482.3 1685.8 L484.4 1702.6 L486.6 1716.2 L489.1 1728.3 L491.5 1737.4 L494.3 1744.8 L495.5 1747.2 L497.1 1749.8 L498.6 1751.7 L500.5 1753.6 L502.3 1754.9 L504.5 1755.9 L506.9 1756.6 L509.4 1756.9 L514.0 1756.9 L526.0 1755.2 L532.2 1754.9 L537.7 1755.4 L548.5 1757.2 L554.0 1757.9 L560.5 1758.3 L568.8 1758.5 L1103.5 1758.5"/>
<path stroke="#FF6428" d="M180.0 1758.5 L302.5 1758.5 L314.8 1758.4 L321.3 1757.9 L326.2 1756.8 L330.2 1755.2 L332.1 1754.1 L333.9 1752.7 L336.1 1750.6 L338.2 1747.9 L340.1 1745.1 L341.9 1741.7 L343.8 1737.7 L345.6 1733.0 L349.0 1722.5 L352.4 1709.4 L355.8 1693.9 L359.2 1676.4 L367.5 1630.6 L369.9 1618.3 L372.1 1608.7 L374.6 1599.7 L376.7 1593.8 L377.9 1591.4 L379.2 1589.7 L380.4 1588.7 L381.3 1588.5 L382.2 1588.7 L383.5 1589.7 L384.7 1591.6 L385.9 1594.3 L388.4 1602.0 L390.9 1612.4 L394.3 1630.2 L397.9 1653.1 L401.3 1676.9 L407.5 1723.9 L410.3 1741.6 L412.1 1750.3 L413.0 1753.6 L414.0 1756.0 L414.9 1757.7 L415.8 1758.4 L416.7 1758.3 L417.6 1757.1 L418.9 1753.8 L419.8 1749.9 L421.0 1742.5 L422.0 1735.3 L424.1 1712.9 L426.3 1683.3 L430.6 1609.9 L441.4 1406.0 L443.8 1364.2 L446.0 1332.7 L447.8 1310.8 L449.7 1294.4 L450.6 1288.5 L451.5 1284.3 L452.4 1281.7 L453.0 1281.0 L453.4 1280.9 L453.7 1281.0 L454.3 1281.7 L455.2 1283.9 L456.1 1287.7 L457.4 1295.1 L459.2 1310.6 L461.4 1335.0 L463.2 1360.5 L465.4 1394.2 L473.1 1528.1 L476.8 1587.7 L480.4 1638.2 L482.3 1659.4 L484.1 1678.0 L486.0 1693.9 L488.1 1709.3 L490.3 1721.7 L492.5 1731.4 L494.9 1739.8 L497.4 1745.9 L498.6 1748.2 L500.1 1750.5 L501.7 1752.3 L503.5 1753.9 L505.1 1754.9 L506.9 1755.7 L508.8 1756.2 L510.9 1756.5 L515.8 1756.3 L527.2 1754.5 L532.5 1754.3 L537.7 1754.9 L548.8 1757.0 L554.3 1757.8 L561.1 1758.3 L570.0 1758.5 L1103.5 1758.5"/>
<path stroke="#0E9AFF" d="M180.0 1758.5 L318.5 1758.4 L325.0 1758.1 L329.9 1757.5 L333.9 1756.5 L337.6 1754.8 L339.8 1753.5 L341.9 1751.7 L343.8 1749.9 L345.6 1747.6 L349.0 1742.3 L352.4 1735.4 L355.8 1726.6 L359.2 1716.2 L362.5 1704.5 L370.5 1674.9 L372.7 1667.7 L374.9 1661.2 L377.3 1655.2 L379.5 1651.4 L380.7 1649.8 L381.6 1649.0 L382.9 1648.3 L383.8 1648.1 L384.7 1648.3 L385.9 1649.0 L386.9 1650.0 L388.1 1651.7 L390.6 1656.8 L393.0 1663.9 L396.1 1675.0 L399.2 1688.4 L401.9 1702.5 L407.8 1734.9 L410.6 1747.5 L412.4 1753.6 L413.3 1755.7 L414.3 1757.2 L415.2 1758.2 L416.1 1758.5 L417.0 1758.2 L417.6 1757.6 L418.9 1755.5 L419.8 1753.0 L421.0 1748.4 L422.0 1744.0 L424.1 1730.2 L426.3 1712.0 L429.3 1680.0 L432.7 1639.5 L436.4 1591.4 L444.1 1485.9 L447.8 1441.6 L450.3 1418.3 L452.4 1403.5 L453.7 1397.7 L454.6 1394.6 L455.5 1392.8 L456.4 1392.2 L457.4 1392.8 L458.3 1394.6 L459.2 1397.7 L460.4 1403.5 L462.3 1415.9 L464.4 1435.3 L468.1 1478.1 L475.8 1582.7 L479.2 1625.4 L482.9 1665.2 L486.3 1694.2 L488.1 1707.0 L490.3 1719.4 L492.5 1729.3 L494.6 1737.1 L497.1 1743.8 L499.5 1748.6 L500.8 1750.4 L502.3 1752.2 L503.8 1753.5 L505.4 1754.6 L506.9 1755.3 L508.8 1755.8 L510.6 1756.1 L512.8 1756.2 L516.8 1755.8 L526.9 1754.0 L530.0 1753.7 L533.1 1753.8 L538.0 1754.4 L548.8 1756.8 L554.6 1757.7 L561.7 1758.3 L571.3 1758.5 L1103.5 1758.5"/>
</g>
<g font-size="40" fill="#262626" stroke="#262626" stroke-width="0.9" text-anchor="end">
<text x="164.5" y="1772.8">0</text>
<text x="164.5" y="1653.2">0.01</text>
<text x="164.5" y="1533.6">0.02</text>
<text x="164.5" y="1414">0.03</text>
<text x="164.5" y="1294.5">0.04</text>
<text x="164.5" y="1174.9">0.05</text>
<text x="164.5" y="1055.3">0.06</text>
</g>
<g font-size="40" fill="#262626" stroke="#262626" stroke-width="0.9" text-anchor="middle">
<text x="178.8" y="1809.7">0</text>
<text x="332.7" y="1809.7">0.5</text>
<text x="486.6" y="1809.7">1</text>
<text x="640.5" y="1809.7">1.5</text>
<text x="794.5" y="1809.7">2</text>
<text x="948.4" y="1809.7">2.5</text>
<text x="1102.3" y="1809.7">3</text>
</g>
<text transform="translate(568.4 1863.3) scale(0.9909 1)" font-size="44" fill="#262626" stroke="#262626" stroke-width="0.9"><tspan font-style="italic">&#969;</tspan>(rad/s)</text>
<text transform="translate(58 1399.8) rotate(-90)" font-size="44" fill="#262626" stroke="#262626" stroke-width="0.8" text-anchor="middle">S<tspan font-size="35" dy="21"><tspan font-style="italic">&#958;</tspan>3</tspan><tspan dy="-21">(</tspan><tspan font-style="italic">&#969;</tspan>)</text>
<text transform="translate(478.2 1945.8) scale(0.9111 1)" font-size="70" fill="#000">(<tspan font-weight="bold">c</tspan>)</text>
<text transform="translate(566.9 1945.8) scale(1.0661 1)" font-size="70" fill="#000">Heave</text>
</g>
<g id="pd">
<path d="M1528.5 1041V1758.5M1683.5 1041V1758.5M1838.5 1041V1758.5M1993.5 1041V1758.5M2148.5 1041V1758.5M1373.5 1615.5H2303.5M1373.5 1471.5H2303.5M1373.5 1328.5H2303.5M1373.5 1184.5H2303.5" stroke="#232323" stroke-opacity="0.52" stroke-width="1" fill="none"/>
<path d="M1528.5 1758.5V1748M1528.5 1041V1051.5M1683.5 1758.5V1748M1683.5 1041V1051.5M1838.5 1758.5V1748M1838.5 1041V1051.5M1993.5 1758.5V1748M1993.5 1041V1051.5M2148.5 1758.5V1748M2148.5 1041V1051.5M1373.5 1615.5H1384M2303.5 1615.5H2293M1373.5 1471.5H1384M2303.5 1471.5H2293M1373.5 1328.5H1384M2303.5 1328.5H2293M1373.5 1184.5H1384M2303.5 1184.5H2293" stroke="#262626" stroke-width="2.9" fill="none"/>
<path d="M1373.5 1040V1759.5M2303.5 1040V1759.5" stroke="#262626" stroke-width="3" fill="none"/>
<path d="M1373.5 1041H2303.5M1373.5 1758.5H2303.5" stroke="#262626" stroke-width="2" fill="none"/>
<g fill="none" stroke-width="3.6" stroke-linejoin="round" stroke-linecap="butt">
<path stroke="#000000" d="M1373.5 1758.5 L1490.7 1758.5 L1496.0 1758.4 L1499.4 1758.1 L1502.2 1757.5 L1504.6 1756.5 L1506.8 1754.9 L1508.7 1753.0 L1510.5 1750.2 L1512.1 1747.2 L1513.6 1743.4 L1515.2 1738.6 L1517.3 1729.9 L1519.2 1720.3 L1521.1 1708.5 L1522.6 1696.6 L1524.5 1679.8 L1526.0 1663.5 L1529.1 1624.2 L1532.2 1575.5 L1535.6 1511.8 L1539.0 1439.4 L1546.8 1265.2 L1549.0 1220.9 L1551.1 1181.8 L1553.6 1145.3 L1555.8 1122.0 L1557.0 1112.8 L1558.0 1108.0 L1558.9 1104.9 L1559.5 1103.9 L1560.1 1103.7 L1560.7 1104.2 L1561.4 1105.5 L1562.6 1110.2 L1563.8 1117.8 L1565.1 1128.2 L1567.6 1156.6 L1570.3 1199.3 L1572.8 1245.0 L1575.6 1302.9 L1587.1 1563.7 L1589.6 1613.1 L1592.0 1654.7 L1594.2 1683.5 L1595.5 1696.5 L1596.7 1707.0 L1597.9 1715.2 L1599.2 1721.2 L1600.4 1725.2 L1601.7 1727.3 L1602.3 1727.6 L1602.9 1727.6 L1603.5 1727.1 L1604.1 1726.2 L1605.4 1723.0 L1606.3 1719.3 L1607.5 1712.7 L1608.5 1706.3 L1610.3 1689.7 L1612.2 1668.0 L1614.4 1636.8 L1621.8 1508.0 L1625.2 1457.8 L1627.1 1437.0 L1628.9 1421.9 L1629.9 1416.7 L1630.8 1413.0 L1631.4 1411.5 L1631.7 1411.0 L1632.3 1410.5 L1632.7 1410.5 L1633.3 1411.0 L1634.2 1412.8 L1635.1 1415.8 L1636.1 1420.1 L1637.9 1432.0 L1640.1 1451.1 L1643.8 1493.6 L1651.3 1593.0 L1654.7 1635.0 L1658.4 1673.6 L1661.8 1701.2 L1663.7 1713.2 L1665.8 1724.7 L1668.0 1733.8 L1670.2 1740.8 L1672.7 1746.7 L1675.1 1750.8 L1677.9 1754.0 L1679.5 1755.2 L1681.3 1756.3 L1684.7 1757.6 L1688.8 1758.3 L1696.5 1758.5 L1699.0 1758.4 L1701.2 1758.0 L1703.7 1757.2 L1706.4 1755.9 L1715.4 1750.1 L1719.2 1748.0 L1722.6 1746.8 L1726.0 1746.3 L1729.1 1746.7 L1732.2 1747.7 L1735.3 1749.3 L1743.6 1754.1 L1748.9 1756.3 L1752.0 1757.2 L1755.1 1757.7 L1762.9 1758.3 L1773.1 1758.0 L1788.9 1756.6 L1795.1 1756.3 L1801.3 1756.6 L1818.7 1758.1 L1833.8 1758.5 L2303.5 1758.5"/>
<path stroke="#FF12A6" d="M1373.5 1758.5 L1493.5 1758.5 L1503.4 1758.2 L1506.5 1757.8 L1509.0 1757.2 L1511.1 1756.3 L1513.0 1755.2 L1514.9 1753.6 L1516.7 1751.5 L1518.3 1749.1 L1519.8 1746.2 L1522.0 1740.8 L1523.8 1734.9 L1525.7 1727.4 L1527.3 1719.9 L1529.1 1709.1 L1530.7 1698.6 L1533.8 1672.9 L1536.9 1640.9 L1540.0 1602.8 L1543.1 1559.8 L1550.5 1450.2 L1554.5 1399.2 L1556.7 1377.8 L1558.9 1361.9 L1560.1 1355.7 L1561.0 1352.4 L1562.0 1350.3 L1562.9 1349.5 L1563.2 1349.6 L1563.8 1350.1 L1564.5 1351.2 L1565.1 1352.9 L1566.0 1356.6 L1567.2 1363.6 L1569.4 1380.9 L1571.6 1404.2 L1573.8 1432.2 L1575.9 1463.8 L1586.2 1624.4 L1589.0 1661.2 L1591.7 1691.2 L1593.0 1702.1 L1594.5 1713.3 L1596.1 1722.2 L1597.6 1728.8 L1599.2 1733.4 L1600.1 1735.2 L1601.0 1736.4 L1602.0 1736.9 L1602.9 1736.9 L1603.8 1736.2 L1604.5 1735.4 L1605.7 1732.9 L1606.9 1729.1 L1608.2 1723.8 L1609.4 1716.9 L1611.6 1700.3 L1613.8 1677.7 L1615.9 1649.0 L1618.1 1614.9 L1626.8 1454.5 L1630.2 1399.6 L1632.0 1376.1 L1633.9 1358.5 L1634.8 1352.1 L1635.8 1347.5 L1636.7 1344.7 L1637.3 1343.9 L1637.6 1343.8 L1637.9 1343.9 L1638.5 1344.5 L1639.5 1346.7 L1640.4 1350.4 L1641.3 1355.5 L1643.2 1369.8 L1645.4 1392.5 L1649.1 1443.1 L1656.5 1561.4 L1659.6 1607.2 L1663.3 1653.9 L1666.8 1687.7 L1668.6 1702.4 L1670.8 1716.5 L1673.0 1727.7 L1675.1 1736.5 L1677.6 1744.0 L1680.1 1749.4 L1681.6 1751.9 L1683.2 1753.9 L1684.7 1755.4 L1686.3 1756.5 L1687.8 1757.3 L1689.4 1757.9 L1693.1 1758.4 L1698.1 1758.4 L1701.8 1757.6 L1704.0 1756.7 L1706.4 1755.1 L1715.4 1747.6 L1719.2 1745.0 L1722.6 1743.3 L1724.4 1742.8 L1726.0 1742.7 L1729.1 1743.2 L1732.2 1744.6 L1735.3 1746.6 L1743.6 1752.8 L1746.4 1754.5 L1748.9 1755.6 L1752.0 1756.8 L1755.1 1757.5 L1758.5 1758.0 L1762.5 1758.2 L1767.5 1758.2 L1772.8 1757.9 L1788.9 1756.0 L1795.1 1755.6 L1801.3 1756.0 L1812.8 1757.5 L1818.7 1758.0 L1825.2 1758.3 L1833.8 1758.5 L2303.5 1758.5"/>
<path stroke="#60D210" d="M1373.5 1758.5 L1496.3 1758.5 L1507.1 1758.3 L1512.7 1757.6 L1514.9 1757.1 L1517.0 1756.2 L1518.9 1755.1 L1520.8 1753.6 L1522.3 1752.0 L1523.8 1749.9 L1525.7 1746.8 L1527.6 1742.7 L1529.4 1737.6 L1531.0 1732.4 L1532.8 1724.9 L1534.4 1717.5 L1537.5 1699.3 L1540.6 1676.3 L1543.7 1648.9 L1553.6 1545.7 L1555.8 1524.8 L1557.6 1509.0 L1559.8 1493.7 L1561.7 1483.9 L1562.9 1479.3 L1563.8 1476.8 L1564.8 1475.4 L1565.7 1474.8 L1566.6 1475.2 L1567.6 1476.7 L1568.5 1479.2 L1569.7 1484.0 L1571.9 1496.5 L1574.1 1513.4 L1575.9 1530.8 L1578.1 1553.8 L1587.7 1664.9 L1590.5 1691.7 L1593.0 1710.8 L1594.2 1718.4 L1595.8 1726.3 L1597.3 1732.3 L1598.9 1736.5 L1600.4 1739.2 L1601.3 1740.1 L1602.3 1740.6 L1603.2 1740.5 L1603.8 1740.1 L1605.4 1738.2 L1606.9 1734.7 L1608.2 1730.5 L1609.4 1725.0 L1610.7 1717.9 L1613.1 1698.7 L1615.6 1672.3 L1618.1 1638.8 L1620.6 1599.2 L1629.6 1431.9 L1633.3 1371.1 L1635.5 1343.6 L1637.3 1326.2 L1638.2 1320.0 L1639.2 1315.5 L1640.1 1312.8 L1640.7 1312.0 L1641.0 1311.9 L1641.3 1311.9 L1642.0 1312.7 L1642.9 1315.1 L1643.8 1319.0 L1644.8 1324.5 L1646.6 1339.9 L1648.8 1364.3 L1652.5 1418.8 L1659.9 1546.3 L1663.0 1595.5 L1666.8 1645.9 L1670.2 1682.2 L1672.0 1698.1 L1673.9 1711.5 L1676.1 1724.2 L1678.2 1734.2 L1680.7 1742.9 L1683.2 1749.3 L1684.4 1751.7 L1686.0 1754.1 L1687.2 1755.5 L1688.8 1756.8 L1691.2 1758.0 L1694.7 1758.5 L1698.7 1758.3 L1702.1 1757.3 L1704.3 1756.1 L1706.8 1754.2 L1715.4 1745.6 L1719.2 1742.5 L1722.6 1740.5 L1724.4 1740.0 L1726.0 1739.8 L1727.5 1740.0 L1729.1 1740.4 L1732.2 1742.0 L1735.3 1744.4 L1743.6 1751.7 L1746.4 1753.7 L1748.9 1755.1 L1752.0 1756.4 L1755.1 1757.3 L1758.5 1757.9 L1762.5 1758.1 L1767.5 1758.1 L1772.8 1757.8 L1777.7 1757.2 L1788.9 1755.3 L1795.1 1754.9 L1801.3 1755.3 L1812.8 1757.2 L1818.7 1757.9 L1825.2 1758.3 L1833.8 1758.5 L2303.5 1758.5"/>
<path stroke="#FF6428" d="M1373.5 1758.5 L1510.5 1758.4 L1516.4 1757.9 L1520.8 1756.9 L1524.2 1755.3 L1527.3 1752.8 L1529.1 1750.7 L1531.0 1747.9 L1532.8 1744.3 L1534.4 1740.7 L1537.5 1731.3 L1540.6 1718.7 L1543.4 1704.4 L1546.5 1685.4 L1549.3 1665.9 L1556.4 1613.0 L1560.1 1589.3 L1562.3 1578.6 L1564.2 1571.9 L1565.1 1569.4 L1566.0 1567.7 L1566.9 1566.6 L1567.9 1566.2 L1568.8 1566.6 L1569.7 1567.6 L1570.7 1569.5 L1571.6 1572.1 L1573.5 1579.2 L1575.6 1590.8 L1579.3 1616.6 L1588.6 1691.3 L1591.4 1709.8 L1594.2 1724.4 L1595.8 1730.7 L1597.3 1735.7 L1598.9 1739.5 L1600.4 1742.2 L1602.0 1743.9 L1602.9 1744.5 L1603.8 1744.7 L1604.8 1744.5 L1605.7 1744.0 L1607.2 1742.3 L1608.8 1739.4 L1610.3 1735.3 L1611.9 1729.7 L1613.4 1722.5 L1615.0 1713.5 L1616.5 1702.8 L1619.3 1678.6 L1622.1 1648.3 L1625.2 1608.1 L1628.3 1562.5 L1635.1 1455.9 L1638.9 1405.7 L1641.0 1382.7 L1642.9 1368.0 L1644.1 1361.0 L1645.1 1357.4 L1646.0 1355.3 L1646.6 1354.6 L1646.9 1354.5 L1647.2 1354.6 L1647.8 1355.3 L1648.8 1357.4 L1649.7 1361.0 L1650.6 1366.0 L1652.5 1379.9 L1654.7 1402.0 L1658.4 1451.3 L1665.8 1566.6 L1668.9 1611.1 L1672.3 1653.4 L1675.4 1684.8 L1677.3 1700.6 L1679.5 1716.2 L1681.3 1727.4 L1683.5 1738.1 L1685.4 1745.3 L1687.5 1751.5 L1688.5 1753.5 L1689.7 1755.4 L1690.6 1756.5 L1691.9 1757.5 L1694.0 1758.4 L1696.8 1758.4 L1700.2 1757.7 L1703.0 1756.4 L1704.9 1755.1 L1707.1 1753.1 L1715.4 1743.6 L1719.2 1740.0 L1721.0 1738.6 L1722.6 1737.8 L1724.4 1737.1 L1726.0 1737.0 L1727.5 1737.1 L1729.1 1737.6 L1732.2 1739.5 L1735.3 1742.3 L1743.6 1750.7 L1746.4 1753.0 L1748.9 1754.6 L1752.0 1756.1 L1755.1 1757.1 L1758.5 1757.8 L1762.5 1758.1 L1767.5 1758.1 L1772.8 1757.6 L1777.7 1756.9 L1788.9 1754.7 L1792.0 1754.3 L1795.1 1754.2 L1798.2 1754.3 L1801.3 1754.7 L1812.8 1756.9 L1818.7 1757.8 L1825.2 1758.3 L1833.8 1758.5 L2303.5 1758.5"/>
<path stroke="#0E9AFF" d="M1373.5 1758.5 L1513.9 1758.4 L1519.5 1758.2 L1523.8 1757.6 L1527.3 1756.6 L1530.4 1755.0 L1532.2 1753.7 L1534.1 1751.9 L1535.9 1749.6 L1537.5 1747.2 L1540.6 1741.0 L1543.4 1733.5 L1546.2 1724.0 L1549.3 1711.4 L1558.6 1666.3 L1562.3 1650.5 L1564.2 1644.4 L1566.0 1639.7 L1566.9 1638.1 L1567.9 1636.9 L1568.8 1636.1 L1569.7 1635.9 L1570.7 1636.1 L1571.6 1636.9 L1572.5 1638.2 L1573.5 1640.0 L1575.3 1645.0 L1577.2 1651.7 L1580.6 1667.4 L1587.1 1702.5 L1589.6 1715.0 L1592.4 1727.0 L1594.8 1735.4 L1596.4 1739.5 L1597.9 1742.7 L1599.5 1745.2 L1601.0 1746.9 L1602.6 1747.9 L1603.5 1748.1 L1604.5 1748.2 L1606.3 1747.4 L1607.9 1746.0 L1609.7 1743.2 L1611.3 1739.9 L1613.1 1734.6 L1614.7 1729.0 L1616.2 1722.3 L1617.8 1714.3 L1620.9 1694.5 L1624.0 1669.7 L1627.1 1640.2 L1630.2 1606.9 L1637.6 1521.8 L1641.7 1482.1 L1643.8 1465.4 L1646.0 1453.1 L1647.2 1448.3 L1648.2 1445.8 L1649.1 1444.3 L1650.0 1443.8 L1651.0 1444.4 L1651.9 1446.1 L1652.8 1448.9 L1653.7 1452.7 L1655.6 1463.5 L1657.8 1480.8 L1661.5 1519.2 L1668.9 1609.0 L1672.0 1643.9 L1675.4 1677.2 L1678.8 1704.9 L1680.7 1717.6 L1682.6 1728.6 L1684.4 1738.0 L1686.0 1744.4 L1687.5 1749.5 L1689.4 1753.9 L1691.2 1756.6 L1693.1 1758.0 L1695.3 1758.5 L1697.8 1758.3 L1700.5 1757.4 L1703.3 1755.8 L1705.2 1754.3 L1707.4 1752.1 L1715.4 1742.1 L1719.2 1738.2 L1721.0 1736.6 L1722.6 1735.7 L1724.4 1735.0 L1726.0 1734.8 L1727.5 1735.0 L1729.1 1735.6 L1730.6 1736.4 L1732.2 1737.6 L1735.3 1740.6 L1743.6 1749.9 L1746.4 1752.4 L1748.9 1754.2 L1752.0 1755.9 L1755.1 1757.0 L1758.5 1757.7 L1762.5 1758.0 L1767.5 1758.0 L1772.8 1757.5 L1777.7 1756.6 L1788.9 1754.1 L1792.0 1753.6 L1795.1 1753.5 L1798.2 1753.6 L1801.3 1754.1 L1812.8 1756.7 L1818.7 1757.7 L1825.2 1758.2 L1833.8 1758.5 L2303.5 1758.5"/>
</g>
<g font-size="40" fill="#262626" stroke="#262626" stroke-width="0.9" text-anchor="end">
<text x="1358" y="1772.8">0</text>
<text x="1358" y="1629.3">0.2</text>
<text x="1358" y="1485.8">0.4</text>
<text x="1358" y="1342.3">0.6</text>
<text x="1358" y="1198.8">0.8</text>
<text x="1358" y="1055.3">1</text>
</g>
<g font-size="40" fill="#262626" stroke="#262626" stroke-width="0.9" text-anchor="middle">
<text x="1372.3" y="1809.7">0</text>
<text x="1527.3" y="1809.7">0.5</text>
<text x="1682.3" y="1809.7">1</text>
<text x="1837.3" y="1809.7">1.5</text>
<text x="1992.3" y="1809.7">2</text>
<text x="2147.3" y="1809.7">2.5</text>
<text x="2302.3" y="1809.7">3</text>
</g>
<text y="1031.8" font-size="40" fill="#262626" stroke="#262626" stroke-width="0.7"><tspan x="1375" font-size="50" dy="6.3" stroke-width="0">&#215;</tspan><tspan x="1406.4" dy="-6.3">10</tspan><tspan x="1446.1" font-size="31" dy="-19.6">-</tspan><tspan x="1456.3" font-size="31">8</tspan></text>
<text transform="translate(1764.6 1863.3) scale(0.9881 1)" font-size="44" fill="#262626" stroke="#262626" stroke-width="0.9"><tspan font-style="italic">&#969;</tspan>(rad/s)</text>
<text transform="translate(1271 1399.8) rotate(-90)" font-size="44" fill="#262626" stroke="#262626" stroke-width="0.8" text-anchor="middle">S<tspan font-size="35" dy="21"><tspan font-style="italic">&#958;</tspan>4</tspan><tspan dy="-21">(</tspan><tspan font-style="italic">&#969;</tspan>)</text>
<text transform="translate(1707 1945.8) scale(0.9823 1)" font-size="70" fill="#000">(<tspan font-weight="bold">d</tspan>)</text>
<text transform="translate(1807 1945.8) scale(0.9983 1)" font-size="70" fill="#000">Roll</text>
</g>
<g id="pe">
<path d="M328.5 2031V2748.4M483.5 2031V2748.4M638.5 2031V2748.4M793.5 2031V2748.4M948.5 2031V2748.4M173.5 2605.5H1103.5M173.5 2461.5H1103.5M173.5 2318.5H1103.5M173.5 2174.5H1103.5" stroke="#232323" stroke-opacity="0.52" stroke-width="1" fill="none"/>
<path d="M328.5 2748.4V2737.9M328.5 2031V2041.5M483.5 2748.4V2737.9M483.5 2031V2041.5M638.5 2748.4V2737.9M638.5 2031V2041.5M793.5 2748.4V2737.9M793.5 2031V2041.5M948.5 2748.4V2737.9M948.5 2031V2041.5M173.5 2605.5H184M1103.5 2605.5H1093M173.5 2461.5H184M1103.5 2461.5H1093M173.5 2318.5H184M1103.5 2318.5H1093M173.5 2174.5H184M1103.5 2174.5H1093" stroke="#262626" stroke-width="2.9" fill="none"/>
<path d="M173.5 2030V2749.4M1103.5 2030V2749.4" stroke="#262626" stroke-width="3" fill="none"/>
<path d="M173.5 2031H1103.5M173.5 2748.4H1103.5" stroke="#262626" stroke-width="2" fill="none"/>
<g fill="none" stroke-width="3.6" stroke-linejoin="round" stroke-linecap="butt">
<path stroke="#000000" d="M173.5 2748.4 L313.3 2748.4 L318.9 2748.2 L321.1 2747.8 L322.9 2747.1 L324.8 2745.8 L326.3 2744.2 L327.9 2742.0 L329.4 2739.3 L332.5 2732.2 L336.6 2720.0 L341.2 2702.6 L346.2 2681.0 L351.1 2656.5 L355.8 2630.6 L360.1 2603.5 L364.1 2575.4 L368.2 2544.3 L371.6 2515.3 L374.7 2486.8 L380.9 2423.5 L387.7 2344.7 L400.7 2182.6 L403.8 2149.4 L405.1 2138.8 L406.0 2133.4 L406.3 2133.5 L406.9 2134.5 L407.9 2137.7 L408.8 2143.1 L409.7 2150.7 L411.6 2171.7 L413.8 2205.3 L417.5 2280.3 L424.9 2456.1 L428.3 2531.1 L431.7 2596.0 L435.1 2649.3 L437.0 2673.5 L438.6 2690.8 L440.1 2705.7 L442.0 2720.3 L443.8 2731.3 L445.7 2739.1 L447.5 2744.1 L448.5 2745.7 L449.7 2747.1 L451.6 2748.2 L452.8 2748.4 L454.4 2748.4 L465.2 2747.4 L476.7 2745.2 L481.9 2744.8 L487.2 2745.2 L497.4 2747.1 L502.7 2747.8 L508.6 2748.2 L517.0 2748.4 L1103.5 2748.4"/>
<path stroke="#FF12A6" d="M173.5 2748.4 L314.9 2748.4 L321.7 2748.3 L324.5 2747.9 L326.6 2747.4 L328.8 2746.4 L330.7 2745.3 L332.5 2743.7 L334.4 2741.7 L336.2 2739.3 L338.1 2736.3 L340.9 2730.9 L343.4 2725.1 L346.2 2717.3 L348.6 2709.3 L351.1 2700.1 L353.6 2689.8 L356.1 2678.3 L358.6 2665.6 L363.8 2634.6 L369.4 2596.3 L375.0 2553.4 L388.3 2445.5 L392.0 2418.1 L395.5 2395.6 L399.5 2373.3 L401.7 2363.6 L403.5 2356.7 L405.7 2350.4 L407.6 2346.5 L409.4 2344.2 L410.3 2343.6 L411.3 2343.4 L412.2 2343.9 L413.4 2346.6 L414.7 2351.3 L415.9 2358.0 L418.4 2377.1 L420.9 2402.7 L423.1 2429.3 L425.5 2463.1 L437.6 2640.3 L440.4 2676.6 L442.9 2704.0 L445.1 2722.9 L447.2 2736.2 L448.2 2740.2 L449.4 2744.1 L450.6 2746.6 L451.3 2747.4 L452.2 2748.1 L453.1 2748.4 L454.4 2748.3 L459.0 2746.4 L461.5 2745.8 L469.2 2745.4 L477.6 2744.3 L481.3 2744.1 L484.1 2744.2 L486.9 2744.6 L497.4 2746.9 L502.7 2747.7 L508.6 2748.2 L517.0 2748.4 L1103.5 2748.4"/>
<path stroke="#60D210" d="M173.5 2748.4 L322.0 2748.3 L326.9 2747.7 L329.1 2747.1 L331.0 2746.4 L334.7 2744.1 L338.4 2740.6 L341.2 2737.1 L343.7 2733.3 L346.2 2728.8 L348.6 2723.6 L351.1 2717.7 L353.6 2710.9 L356.1 2703.4 L358.6 2695.1 L363.8 2674.6 L369.4 2649.3 L374.7 2622.5 L387.7 2552.6 L391.4 2534.3 L394.8 2519.4 L398.9 2504.6 L401.0 2498.2 L402.9 2493.7 L404.8 2490.1 L406.6 2487.5 L408.5 2486.0 L409.4 2485.6 L410.3 2485.4 L411.3 2485.7 L412.5 2487.0 L413.8 2489.4 L415.0 2492.9 L417.5 2502.8 L420.3 2518.1 L423.7 2541.6 L427.7 2574.0 L432.3 2614.9 L440.4 2689.3 L443.8 2717.0 L446.0 2730.7 L448.2 2740.4 L449.1 2743.3 L450.3 2746.0 L451.3 2747.3 L452.5 2748.2 L453.4 2748.4 L454.7 2748.2 L459.6 2745.5 L462.7 2744.5 L470.5 2743.7 L477.3 2742.8 L480.7 2742.6 L483.5 2742.8 L486.6 2743.3 L497.4 2746.4 L502.7 2747.5 L508.6 2748.1 L517.0 2748.4 L1103.5 2748.4"/>
<path stroke="#FF6428" d="M173.5 2748.4 L324.5 2748.3 L330.4 2747.8 L335.0 2746.7 L339.0 2745.0 L343.1 2742.3 L345.9 2739.8 L348.3 2737.1 L350.8 2733.8 L353.0 2730.4 L355.5 2725.9 L357.6 2721.4 L360.1 2715.6 L362.3 2709.9 L366.9 2695.9 L371.9 2678.1 L376.9 2658.2 L388.3 2609.3 L391.7 2596.1 L394.5 2586.4 L398.2 2575.7 L400.1 2571.4 L401.7 2568.5 L403.5 2565.7 L405.1 2564.1 L406.6 2563.1 L408.2 2562.7 L409.4 2563.1 L410.6 2564.3 L411.9 2566.4 L413.1 2569.1 L414.4 2572.7 L415.9 2578.1 L418.7 2590.2 L420.9 2601.3 L423.7 2617.1 L437.3 2699.9 L440.4 2716.8 L442.9 2728.5 L445.4 2737.7 L447.5 2743.3 L448.5 2745.0 L449.7 2746.7 L450.9 2747.7 L452.2 2748.3 L453.7 2748.4 L455.6 2748.1 L466.8 2745.3 L476.7 2741.9 L479.2 2741.4 L481.6 2741.2 L484.4 2741.4 L487.2 2742.1 L497.4 2745.8 L502.7 2747.3 L508.6 2748.1 L517.0 2748.4 L1103.5 2748.4"/>
<path stroke="#0E9AFF" d="M173.5 2748.4 L325.1 2748.3 L331.0 2748.0 L335.6 2747.2 L340.0 2745.8 L344.0 2743.8 L346.8 2741.9 L349.3 2739.9 L351.8 2737.4 L353.9 2734.9 L356.4 2731.5 L358.6 2728.2 L363.2 2719.6 L367.9 2709.0 L372.8 2695.6 L377.5 2681.6 L389.0 2644.9 L392.4 2635.1 L395.1 2627.9 L398.6 2620.5 L400.4 2617.3 L402.0 2615.0 L403.8 2612.9 L405.4 2611.7 L406.9 2610.9 L408.5 2610.7 L409.7 2610.9 L411.0 2611.8 L412.2 2613.3 L413.4 2615.4 L414.7 2618.0 L416.2 2622.0 L419.0 2631.0 L421.2 2639.3 L424.0 2651.0 L437.9 2714.1 L440.7 2725.5 L443.2 2734.2 L445.4 2740.2 L447.5 2744.5 L448.5 2745.8 L449.7 2747.1 L450.9 2747.9 L452.2 2748.3 L453.7 2748.4 L455.3 2748.2 L463.0 2746.3 L467.1 2744.9 L476.4 2740.6 L479.2 2739.8 L481.9 2739.5 L484.4 2739.7 L487.2 2740.5 L497.4 2745.2 L502.7 2747.0 L508.6 2748.0 L517.0 2748.4 L1103.5 2748.4"/>
</g>
<g font-size="40" fill="#262626" stroke="#262626" stroke-width="0.9" text-anchor="end">
<text x="158" y="2762.7">0</text>
<text x="158" y="2619.2">1</text>
<text x="158" y="2475.7">2</text>
<text x="158" y="2332.3">3</text>
<text x="158" y="2188.8">4</text>
<text x="158" y="2045.3">5</text>
</g>
<g font-size="40" fill="#262626" stroke="#262626" stroke-width="0.9" text-anchor="middle">
<text x="172.3" y="2799.6">0</text>
<text x="327.3" y="2799.6">0.5</text>
<text x="482.3" y="2799.6">1</text>
<text x="637.3" y="2799.6">1.5</text>
<text x="792.3" y="2799.6">2</text>
<text x="947.3" y="2799.6">2.5</text>
<text x="1102.3" y="2799.6">3</text>
</g>
<text y="2021.8" font-size="40" fill="#262626" stroke="#262626" stroke-width="0.7"><tspan x="175" font-size="50" dy="6.3" stroke-width="0">&#215;</tspan><tspan x="206.4" dy="-6.3">10</tspan><tspan x="246.2" font-size="31" dy="-19.6">-</tspan><tspan x="256.3" font-size="31">4</tspan></text>
<text transform="translate(564.8 2853.2) scale(0.9860 1)" font-size="44" fill="#262626" stroke="#262626" stroke-width="0.9"><tspan font-style="italic">&#969;</tspan>(rad/s)</text>
<text transform="translate(100.8 2389.7) rotate(-90)" font-size="44" fill="#262626" stroke="#262626" stroke-width="0.8" text-anchor="middle">S<tspan font-size="35" dy="21"><tspan font-style="italic">&#958;</tspan>5</tspan><tspan dy="-21">(</tspan><tspan font-style="italic">&#969;</tspan>)</text>
<text transform="translate(495.9 2935.7) scale(0.9806 1)" font-size="70" fill="#000">(<tspan font-weight="bold">e</tspan>)</text>
<text transform="translate(588.8 2935.7) scale(1.0404 1)" font-size="70" fill="#000">Pitch</text>
</g>
<g id="pf">
<path d="M1528.5 2031V2748.4M1683.5 2031V2748.4M1838.5 2031V2748.4M1993.5 2031V2748.4M2148.5 2031V2748.4M1373.5 2628.5H2303.5M1373.5 2509.5H2303.5M1373.5 2389.5H2303.5M1373.5 2270.5H2303.5M1373.5 2150.5H2303.5" stroke="#232323" stroke-opacity="0.52" stroke-width="1" fill="none"/>
<path d="M1528.5 2748.4V2737.9M1528.5 2031V2041.5M1683.5 2748.4V2737.9M1683.5 2031V2041.5M1838.5 2748.4V2737.9M1838.5 2031V2041.5M1993.5 2748.4V2737.9M1993.5 2031V2041.5M2148.5 2748.4V2737.9M2148.5 2031V2041.5M1373.5 2628.5H1384M2303.5 2628.5H2293M1373.5 2509.5H1384M2303.5 2509.5H2293M1373.5 2389.5H1384M2303.5 2389.5H2293M1373.5 2270.5H1384M2303.5 2270.5H2293M1373.5 2150.5H1384M2303.5 2150.5H2293" stroke="#262626" stroke-width="2.9" fill="none"/>
<path d="M1373.5 2030V2749.4M2303.5 2030V2749.4" stroke="#262626" stroke-width="3" fill="none"/>
<path d="M1373.5 2031H2303.5M1373.5 2748.4H2303.5" stroke="#262626" stroke-width="2" fill="none"/>
<g fill="none" stroke-width="3.6" stroke-linejoin="round" stroke-linecap="butt">
<path stroke="#000000" d="M1373.5 2748.4 L1502.8 2748.4 L1509.9 2748.1 L1512.7 2747.5 L1514.9 2746.5 L1516.7 2745.1 L1518.6 2743.1 L1520.4 2740.3 L1522.0 2737.3 L1523.8 2732.8 L1525.4 2728.2 L1528.2 2718.1 L1531.0 2705.3 L1533.8 2689.8 L1536.2 2673.6 L1538.7 2655.1 L1541.5 2631.5 L1544.0 2608.3 L1546.8 2579.5 L1551.1 2529.6 L1556.1 2465.9 L1570.7 2258.7 L1575.0 2199.6 L1579.3 2146.1 L1583.1 2106.7 L1586.8 2074.7 L1588.6 2061.8 L1590.5 2051.3 L1592.4 2043.1 L1593.9 2038.1 L1594.8 2036.0 L1595.8 2034.5 L1596.7 2033.6 L1597.3 2033.4 L1597.9 2033.8 L1598.6 2035.0 L1599.8 2039.7 L1601.0 2047.4 L1602.3 2058.1 L1603.5 2071.6 L1605.1 2092.1 L1607.9 2138.3 L1610.3 2187.8 L1613.1 2250.3 L1621.8 2463.9 L1625.2 2543.6 L1628.3 2607.9 L1631.1 2656.2 L1633.9 2693.7 L1635.5 2709.6 L1637.0 2722.3 L1638.5 2731.9 L1640.1 2738.8 L1642.0 2744.1 L1642.9 2745.9 L1643.8 2747.0 L1644.8 2747.8 L1645.7 2748.2 L1646.6 2748.4 L1647.8 2748.3 L1649.4 2747.8 L1651.0 2747.0 L1654.4 2744.6 L1657.2 2741.8 L1659.6 2738.7 L1667.7 2725.9 L1671.1 2721.4 L1673.0 2719.5 L1674.8 2718.2 L1676.4 2717.5 L1678.2 2717.2 L1679.8 2717.4 L1681.6 2718.1 L1683.5 2719.3 L1685.7 2721.1 L1689.1 2724.7 L1699.3 2736.9 L1702.7 2740.3 L1706.1 2743.1 L1709.5 2745.2 L1713.3 2746.8 L1717.3 2747.8 L1721.6 2748.3 L1730.9 2748.4 L1738.7 2748.1 L1744.3 2747.6 L1756.0 2745.9 L1762.5 2745.5 L1768.8 2745.9 L1780.2 2747.4 L1786.1 2747.9 L1792.6 2748.2 L1801.3 2748.4 L2303.5 2748.4"/>
<path stroke="#FF12A6" d="M1373.5 2748.4 L1503.1 2748.4 L1510.5 2748.2 L1513.3 2747.8 L1515.5 2747.2 L1517.7 2746.2 L1519.5 2744.9 L1521.4 2743.1 L1522.9 2741.1 L1524.8 2738.2 L1526.3 2735.3 L1528.8 2729.5 L1531.0 2723.2 L1533.2 2715.8 L1535.3 2707.1 L1537.5 2697.2 L1539.7 2686.0 L1544.0 2659.7 L1548.7 2625.9 L1553.6 2584.0 L1558.9 2534.3 L1571.3 2411.1 L1575.0 2377.4 L1578.4 2349.9 L1580.6 2334.5 L1582.4 2322.8 L1584.3 2312.7 L1586.2 2304.3 L1588.0 2297.6 L1589.9 2292.8 L1590.8 2291.0 L1591.7 2289.8 L1592.7 2289.0 L1593.6 2288.8 L1594.2 2289.1 L1594.8 2289.8 L1596.1 2292.6 L1597.3 2297.1 L1598.9 2305.1 L1600.1 2313.2 L1601.7 2325.5 L1604.5 2352.8 L1606.9 2381.8 L1610.0 2422.4 L1619.6 2560.8 L1623.4 2611.8 L1627.1 2657.3 L1630.2 2688.9 L1633.3 2713.6 L1634.8 2723.1 L1636.4 2730.8 L1637.9 2736.8 L1639.8 2742.0 L1641.7 2745.4 L1642.6 2746.5 L1643.8 2747.5 L1644.8 2748.0 L1646.0 2748.3 L1647.2 2748.4 L1648.8 2748.1 L1650.3 2747.5 L1651.9 2746.7 L1654.7 2744.3 L1656.8 2741.8 L1659.3 2738.0 L1667.4 2722.6 L1670.5 2717.6 L1672.3 2715.3 L1674.2 2713.6 L1675.8 2712.8 L1677.6 2712.4 L1679.2 2712.6 L1681.0 2713.4 L1682.9 2714.7 L1684.7 2716.4 L1688.5 2720.9 L1698.7 2735.1 L1702.1 2739.0 L1705.5 2742.2 L1709.2 2744.8 L1713.0 2746.6 L1717.0 2747.8 L1721.3 2748.3 L1730.9 2748.4 L1738.7 2748.1 L1744.3 2747.5 L1756.0 2745.5 L1762.5 2745.1 L1768.8 2745.4 L1780.2 2747.2 L1786.1 2747.8 L1792.6 2748.2 L1801.3 2748.4 L2303.5 2748.4"/>
<path stroke="#60D210" d="M1373.5 2748.4 L1504.3 2748.4 L1512.4 2748.2 L1515.2 2747.8 L1517.7 2747.2 L1519.8 2746.2 L1521.7 2745.0 L1523.5 2743.3 L1525.4 2741.2 L1527.3 2738.4 L1528.8 2735.6 L1531.0 2730.9 L1533.2 2725.0 L1535.3 2718.0 L1537.5 2709.7 L1539.7 2700.0 L1541.8 2688.9 L1545.9 2664.4 L1550.2 2632.3 L1554.8 2591.9 L1559.5 2546.6 L1571.0 2428.5 L1574.4 2396.7 L1577.2 2373.6 L1580.6 2349.9 L1582.4 2339.5 L1584.0 2332.3 L1585.8 2325.6 L1587.4 2321.7 L1589.0 2319.3 L1589.9 2318.5 L1590.5 2318.4 L1591.1 2318.7 L1591.7 2319.3 L1593.0 2321.8 L1594.2 2325.8 L1595.8 2333.0 L1597.0 2340.4 L1598.6 2351.5 L1601.3 2376.2 L1603.8 2402.4 L1606.6 2435.4 L1616.2 2559.6 L1620.6 2612.6 L1624.6 2656.4 L1628.3 2690.1 L1630.2 2704.1 L1631.7 2714.1 L1633.6 2724.1 L1635.5 2732.1 L1637.3 2738.1 L1639.2 2742.4 L1641.3 2745.7 L1643.5 2747.5 L1644.8 2748.1 L1646.3 2748.4 L1647.8 2748.3 L1649.4 2747.9 L1651.0 2747.0 L1652.2 2746.0 L1654.7 2742.9 L1656.8 2738.9 L1659.0 2733.9 L1667.1 2710.1 L1670.2 2702.5 L1672.0 2699.0 L1673.9 2696.6 L1675.4 2695.4 L1676.4 2695.0 L1677.3 2694.8 L1678.8 2695.2 L1680.7 2696.4 L1682.6 2698.4 L1684.4 2701.1 L1687.8 2707.4 L1695.0 2722.4 L1698.1 2728.5 L1701.5 2734.3 L1704.9 2739.0 L1708.6 2742.9 L1712.3 2745.6 L1714.2 2746.6 L1716.4 2747.4 L1721.0 2748.2 L1730.3 2748.4 L1738.7 2748.0 L1744.3 2747.2 L1756.0 2744.9 L1759.5 2744.5 L1762.5 2744.3 L1768.8 2744.8 L1780.2 2746.9 L1786.1 2747.7 L1792.6 2748.2 L1801.3 2748.4 L2303.5 2748.4"/>
<path stroke="#FF6428" d="M1373.5 2748.4 L1504.6 2748.4 L1513.0 2748.2 L1515.8 2747.9 L1518.3 2747.3 L1520.4 2746.4 L1522.6 2745.1 L1524.8 2743.3 L1526.6 2741.3 L1528.5 2738.7 L1530.0 2736.0 L1532.5 2730.8 L1534.7 2725.1 L1536.9 2718.3 L1539.0 2710.2 L1541.2 2700.8 L1543.4 2690.0 L1547.4 2666.2 L1551.8 2634.9 L1556.1 2598.4 L1560.7 2554.5 L1571.6 2446.5 L1575.0 2415.7 L1577.8 2393.3 L1581.2 2370.6 L1583.1 2360.6 L1584.6 2353.8 L1586.2 2348.4 L1587.7 2344.6 L1589.3 2342.2 L1590.2 2341.5 L1590.8 2341.4 L1591.4 2341.6 L1592.0 2342.2 L1593.3 2344.5 L1594.5 2348.2 L1596.1 2354.8 L1597.3 2361.5 L1598.9 2371.7 L1602.0 2397.4 L1604.5 2422.0 L1607.2 2452.9 L1617.2 2573.1 L1621.5 2622.9 L1625.5 2664.1 L1628.9 2693.4 L1630.8 2706.7 L1632.3 2716.2 L1634.2 2725.7 L1636.1 2733.2 L1637.9 2738.8 L1639.8 2742.9 L1642.0 2745.9 L1644.1 2747.7 L1645.7 2748.3 L1647.2 2748.4 L1648.8 2748.0 L1650.0 2747.2 L1651.3 2746.1 L1652.5 2744.5 L1653.7 2742.3 L1655.0 2739.5 L1657.2 2733.2 L1659.3 2725.2 L1666.8 2691.3 L1668.6 2683.7 L1670.2 2678.2 L1672.0 2672.9 L1673.9 2669.2 L1675.4 2667.3 L1676.4 2666.7 L1677.3 2666.5 L1678.8 2667.0 L1680.7 2668.9 L1682.6 2672.0 L1684.4 2676.1 L1687.8 2685.6 L1695.0 2708.6 L1698.1 2717.9 L1701.5 2726.8 L1704.9 2734.1 L1706.8 2737.3 L1708.6 2740.1 L1710.5 2742.3 L1712.3 2744.2 L1714.2 2745.6 L1716.4 2746.8 L1718.5 2747.6 L1721.0 2748.1 L1724.1 2748.3 L1728.8 2748.4 L1738.4 2748.0 L1744.0 2747.1 L1756.0 2744.3 L1759.5 2743.8 L1762.5 2743.6 L1765.7 2743.8 L1768.8 2744.2 L1780.2 2746.7 L1786.1 2747.6 L1792.6 2748.1 L1801.3 2748.4 L2303.5 2748.4"/>
<path stroke="#0E9AFF" d="M1373.5 2748.4 L1505.6 2748.4 L1514.5 2748.2 L1517.7 2747.9 L1520.1 2747.3 L1522.6 2746.5 L1524.8 2745.3 L1527.0 2743.7 L1528.8 2742.0 L1530.7 2739.8 L1532.5 2737.0 L1535.0 2732.5 L1537.2 2727.5 L1539.3 2721.6 L1541.5 2714.6 L1543.7 2706.4 L1545.9 2697.0 L1549.9 2676.0 L1554.2 2648.4 L1558.6 2615.9 L1563.2 2576.7 L1574.1 2479.9 L1577.2 2454.8 L1580.0 2434.7 L1583.4 2414.4 L1584.9 2406.9 L1586.5 2400.7 L1588.0 2395.8 L1589.6 2392.3 L1591.1 2390.1 L1592.0 2389.5 L1592.7 2389.4 L1593.3 2389.6 L1593.9 2390.2 L1595.5 2392.8 L1596.7 2396.3 L1598.2 2402.3 L1601.0 2417.6 L1604.1 2440.2 L1606.9 2464.7 L1610.0 2495.3 L1620.6 2609.1 L1624.3 2647.4 L1627.7 2678.8 L1630.8 2702.9 L1633.9 2721.7 L1635.5 2729.0 L1637.0 2734.9 L1638.5 2739.5 L1640.4 2743.5 L1642.3 2746.1 L1643.2 2747.0 L1644.4 2747.8 L1646.0 2748.3 L1647.8 2748.3 L1649.4 2747.7 L1651.0 2746.5 L1652.5 2744.5 L1653.7 2742.4 L1655.0 2739.6 L1656.2 2736.2 L1658.4 2728.5 L1660.9 2717.3 L1668.6 2674.4 L1672.0 2658.3 L1674.2 2650.6 L1676.1 2645.9 L1677.0 2644.3 L1677.9 2643.1 L1678.8 2642.4 L1679.8 2642.1 L1680.4 2642.2 L1681.3 2642.7 L1682.3 2643.6 L1683.2 2644.9 L1685.0 2648.6 L1687.2 2654.6 L1690.9 2667.9 L1698.1 2697.5 L1701.5 2710.8 L1704.9 2722.3 L1708.0 2730.9 L1711.4 2738.3 L1713.0 2740.9 L1714.8 2743.4 L1716.7 2745.3 L1718.5 2746.7 L1720.4 2747.5 L1722.6 2748.1 L1725.3 2748.4 L1729.1 2748.4 L1735.0 2748.2 L1739.0 2747.9 L1744.3 2746.9 L1756.0 2743.7 L1759.5 2743.2 L1762.5 2743.0 L1765.7 2743.2 L1768.8 2743.6 L1780.2 2746.4 L1786.1 2747.5 L1792.6 2748.1 L1801.3 2748.4 L2303.5 2748.4"/>
</g>
<g font-size="40" fill="#262626" stroke="#262626" stroke-width="0.9" text-anchor="end">
<text x="1358" y="2762.7">0</text>
<text x="1358" y="2643.1">0.5</text>
<text x="1358" y="2523.6">1</text>
<text x="1358" y="2404">1.5</text>
<text x="1358" y="2284.4">2</text>
<text x="1358" y="2164.9">2.5</text>
<text x="1358" y="2045.3">3</text>
</g>
<g font-size="40" fill="#262626" stroke="#262626" stroke-width="0.9" text-anchor="middle">
<text x="1372.3" y="2799.6">0</text>
<text x="1527.3" y="2799.6">0.5</text>
<text x="1682.3" y="2799.6">1</text>
<text x="1837.3" y="2799.6">1.5</text>
<text x="1992.3" y="2799.6">2</text>
<text x="2147.3" y="2799.6">2.5</text>
<text x="2302.3" y="2799.6">3</text>
</g>
<text y="2021.8" font-size="40" fill="#262626" stroke="#262626" stroke-width="0.7"><tspan x="1375" font-size="50" dy="6.3" stroke-width="0">&#215;</tspan><tspan x="1406.4" dy="-6.3">10</tspan><tspan x="1446.1" font-size="31" dy="-19.6">-</tspan><tspan x="1456.3" font-size="31">5</tspan></text>
<text transform="translate(1764.6 2853.2) scale(0.9881 1)" font-size="44" fill="#262626" stroke="#262626" stroke-width="0.9"><tspan font-style="italic">&#969;</tspan>(rad/s)</text>
<text transform="translate(1271.1 2389.7) rotate(-90)" font-size="44" fill="#262626" stroke="#262626" stroke-width="0.8" text-anchor="middle">S<tspan font-size="35" dy="21"><tspan font-style="italic">&#958;</tspan>6</tspan><tspan dy="-21">(</tspan><tspan font-style="italic">&#969;</tspan>)</text>
<text transform="translate(1708.2 2935.7) scale(0.9672 1)" font-size="70" fill="#000">(<tspan font-weight="bold">f</tspan>)</text>
<text transform="translate(1791.9 2935.7) scale(1.0597 1)" font-size="70" fill="#000">Yaw</text>
</g>
<rect x="827.5" y="74.5" width="253" height="227" fill="#fff" stroke="#262626" stroke-width="1"/>
<path d="M835.1 99.7H921.7" stroke="#000000" stroke-width="4.2"/>
<text x="928.3" y="112" font-size="36" fill="#000" stroke="#000" stroke-width="0.8">U = 0 m/s</text>
<path d="M835.1 143.8H921.7" stroke="#FF12A6" stroke-width="4.2"/>
<text x="928.3" y="156.1" font-size="36" fill="#000" stroke="#000" stroke-width="0.8">U = 1 m/s</text>
<path d="M835.1 187.8H921.7" stroke="#60D210" stroke-width="4.2"/>
<text x="928.3" y="200.1" font-size="36" fill="#000" stroke="#000" stroke-width="0.8">U = 2 m/s</text>
<path d="M835.1 231.9H921.7" stroke="#FF6428" stroke-width="4.2"/>
<text x="928.3" y="244.2" font-size="36" fill="#000" stroke="#000" stroke-width="0.8">U = 3 m/s</text>
<path d="M835.1 276H921.7" stroke="#0E9AFF" stroke-width="4.2"/>
<text x="928.3" y="288.3" font-size="36" fill="#000" stroke="#000" stroke-width="0.8">U = 4 m/s</text>
</svg>
</body></html>
